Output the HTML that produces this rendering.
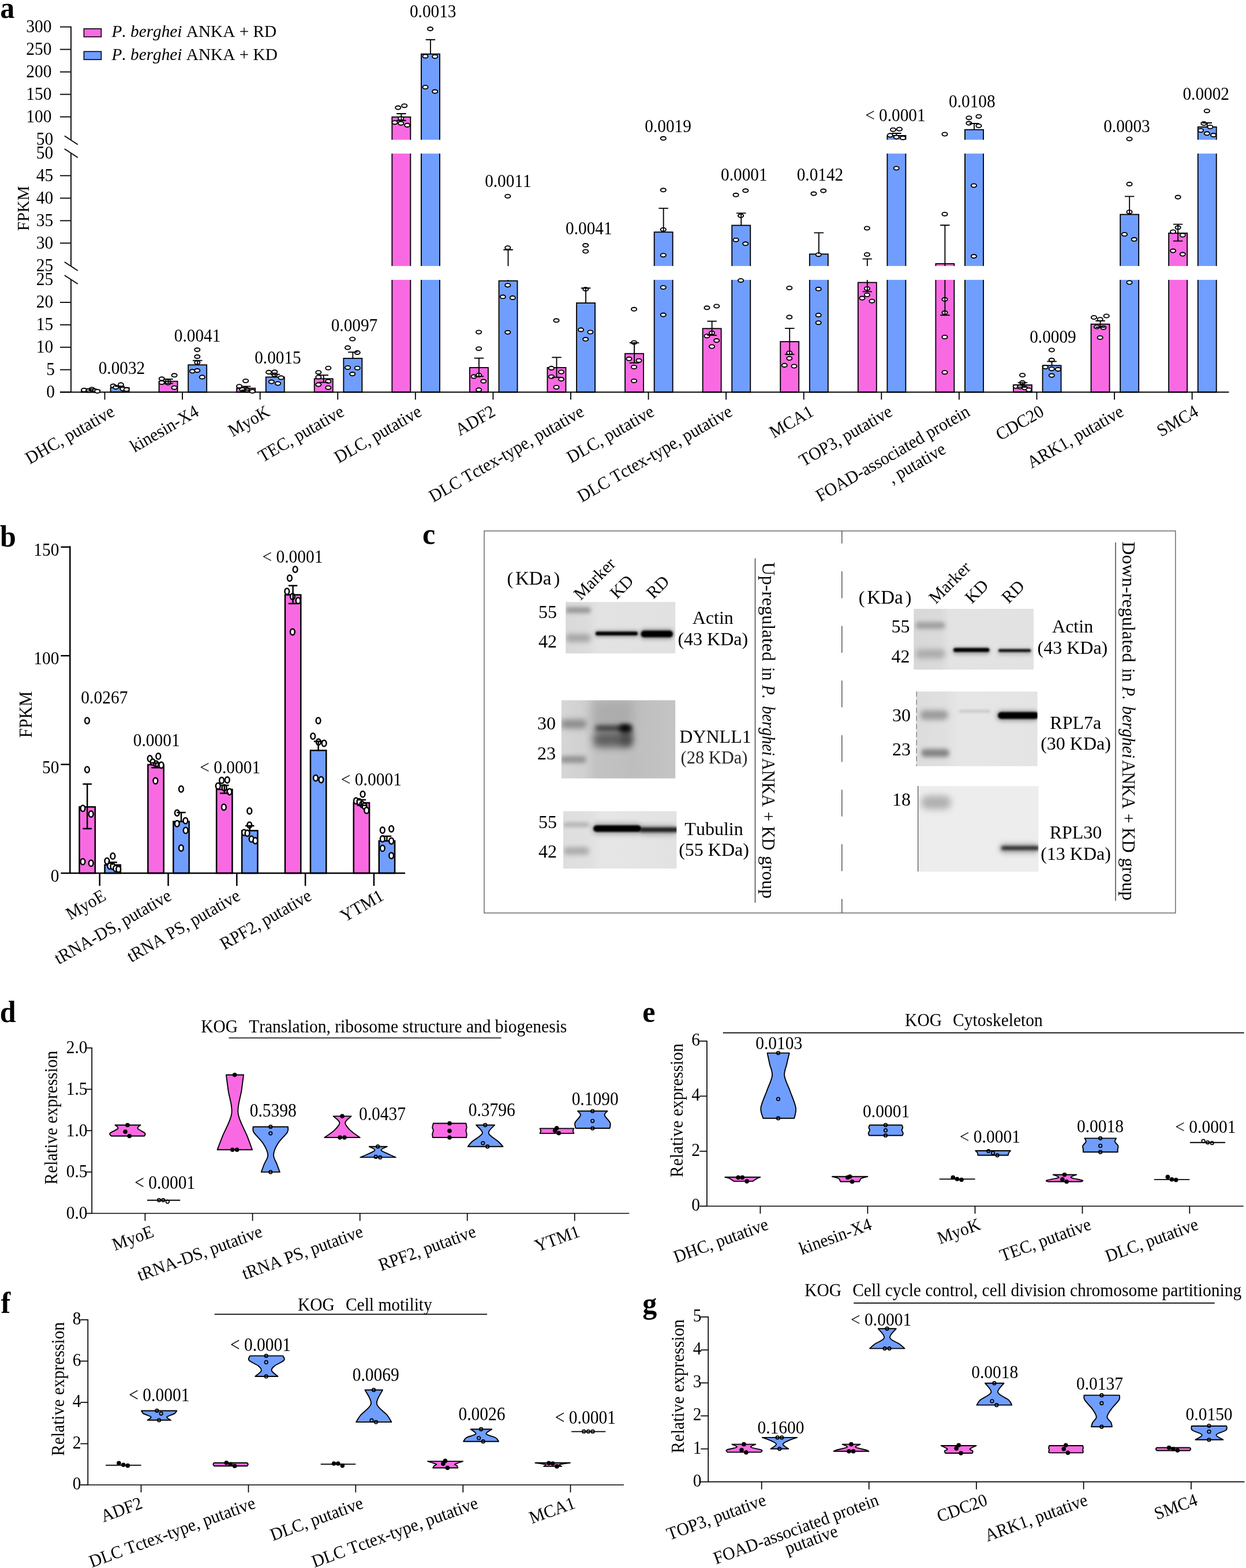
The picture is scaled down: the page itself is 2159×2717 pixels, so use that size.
<!DOCTYPE html>
<html lang="en"><head><meta charset="utf-8"><title>Figure</title>
<style>
html,body{margin:0;padding:0;background:#fff;}
svg{display:block;font-family:'Liberation Serif','Noto Serif CJK SC',serif;font-kerning:none;}
</style></head>
<body>
<svg xmlns="http://www.w3.org/2000/svg" width="2159" height="2717" viewBox="0 0 2159 2717">
<defs>
<filter id="b1" x="-30%" y="-300%" width="160%" height="700%"><feGaussianBlur stdDeviation="1.2"/></filter>
<filter id="b2" x="-30%" y="-300%" width="160%" height="700%"><feGaussianBlur stdDeviation="2.5"/></filter>
<filter id="b4" x="-30%" y="-300%" width="160%" height="700%"><feGaussianBlur stdDeviation="4.5"/></filter>
<filter id="b8" x="-30%" y="-100%" width="160%" height="300%"><feGaussianBlur stdDeviation="9"/></filter>
</defs>
<rect width="2159" height="2717" fill="#fff"/>
<text x="0.3" y="30.6" font-size="50" font-weight="bold" transform="translate(0.3 30.6) scale(1 1.04) translate(-0.3 -30.6)">a</text>
<text x="89.5" y="55.9" font-size="29.5" text-anchor="end" transform="translate(89.5 55.9) scale(1 1.08) translate(-89.5 -55.9)">300</text>
<text x="89.5" y="94.9" font-size="29.5" text-anchor="end" transform="translate(89.5 94.9) scale(1 1.08) translate(-89.5 -94.9)">250</text>
<text x="89.5" y="133.9" font-size="29.5" text-anchor="end" transform="translate(89.5 133.9) scale(1 1.08) translate(-89.5 -133.9)">200</text>
<text x="89.5" y="172.8" font-size="29.5" text-anchor="end" transform="translate(89.5 172.8) scale(1 1.08) translate(-89.5 -172.8)">150</text>
<text x="89.5" y="211.8" font-size="29.5" text-anchor="end" transform="translate(89.5 211.8) scale(1 1.08) translate(-89.5 -211.8)">100</text>
<text x="92.3" y="250.8" font-size="29.5" text-anchor="end" transform="translate(92.3 250.8) scale(1 1.08) translate(-92.3 -250.8)">50</text>
<text x="92.3" y="274.7" font-size="29.5" text-anchor="end" transform="translate(92.3 274.7) scale(1 1.08) translate(-92.3 -274.7)">50</text>
<text x="92.3" y="313.7" font-size="29.5" text-anchor="end" transform="translate(92.3 313.7) scale(1 1.08) translate(-92.3 -313.7)">45</text>
<text x="92.3" y="352.7" font-size="29.5" text-anchor="end" transform="translate(92.3 352.7) scale(1 1.08) translate(-92.3 -352.7)">40</text>
<text x="92.3" y="391.7" font-size="29.5" text-anchor="end" transform="translate(92.3 391.7) scale(1 1.08) translate(-92.3 -391.7)">35</text>
<text x="92.3" y="430.6" font-size="29.5" text-anchor="end" transform="translate(92.3 430.6) scale(1 1.08) translate(-92.3 -430.6)">30</text>
<text x="92.3" y="469.6" font-size="29.5" text-anchor="end" transform="translate(92.3 469.6) scale(1 1.08) translate(-92.3 -469.6)">25</text>
<text x="92.3" y="494.3" font-size="29.5" text-anchor="end" transform="translate(92.3 494.3) scale(1 1.08) translate(-92.3 -494.3)">25</text>
<text x="92.3" y="533.2" font-size="29.5" text-anchor="end" transform="translate(92.3 533.2) scale(1 1.08) translate(-92.3 -533.2)">20</text>
<text x="92.3" y="572.1" font-size="29.5" text-anchor="end" transform="translate(92.3 572.1) scale(1 1.08) translate(-92.3 -572.1)">15</text>
<text x="92.3" y="611" font-size="29.5" text-anchor="end" transform="translate(92.3 611) scale(1 1.08) translate(-92.3 -611)">10</text>
<text x="95" y="649.9" font-size="29.5" text-anchor="end" transform="translate(95 649.9) scale(1 1.08) translate(-95 -649.9)">5</text>
<text x="95" y="688.8" font-size="29.5" text-anchor="end" transform="translate(95 688.8) scale(1 1.08) translate(-95 -688.8)">0</text>
<line x1="104" y1="46.6" x2="123" y2="46.6" stroke="#000" stroke-width="1.85"/>
<line x1="104" y1="85.6" x2="123" y2="85.6" stroke="#000" stroke-width="1.85"/>
<line x1="104" y1="124.6" x2="123" y2="124.6" stroke="#000" stroke-width="1.85"/>
<line x1="104" y1="163.5" x2="123" y2="163.5" stroke="#000" stroke-width="1.85"/>
<line x1="104" y1="202.5" x2="123" y2="202.5" stroke="#000" stroke-width="1.85"/>
<line x1="104" y1="304.4" x2="123" y2="304.4" stroke="#000" stroke-width="1.85"/>
<line x1="104" y1="343.4" x2="123" y2="343.4" stroke="#000" stroke-width="1.85"/>
<line x1="104" y1="382.4" x2="123" y2="382.4" stroke="#000" stroke-width="1.85"/>
<line x1="104" y1="421.3" x2="123" y2="421.3" stroke="#000" stroke-width="1.85"/>
<line x1="104" y1="523.9" x2="123" y2="523.9" stroke="#000" stroke-width="1.85"/>
<line x1="104" y1="562.8" x2="123" y2="562.8" stroke="#000" stroke-width="1.85"/>
<line x1="104" y1="601.7" x2="123" y2="601.7" stroke="#000" stroke-width="1.85"/>
<line x1="104" y1="640.6" x2="123" y2="640.6" stroke="#000" stroke-width="1.85"/>
<line x1="104" y1="679.5" x2="123" y2="679.5" stroke="#000" stroke-width="1.85"/>
<line x1="123" y1="45.68" x2="123" y2="243" stroke="#000" stroke-width="1.85"/>
<line x1="123" y1="265.6" x2="123" y2="461.8" stroke="#000" stroke-width="1.85"/>
<line x1="123" y1="484.5" x2="123" y2="679.5" stroke="#000" stroke-width="1.85"/>
<line x1="111.8" y1="235.4" x2="134.8" y2="250.4" stroke="#000" stroke-width="1.85"/>
<line x1="111.8" y1="258.1" x2="134.8" y2="273.1" stroke="#000" stroke-width="1.85"/>
<line x1="111.8" y1="454.1" x2="134.8" y2="469.1" stroke="#000" stroke-width="1.85"/>
<line x1="111.8" y1="476.9" x2="134.8" y2="491.9" stroke="#000" stroke-width="1.85"/>
<text x="50.3" y="361" font-size="28.6" text-anchor="middle" transform="rotate(-90 50.3 361)">FPKM</text>
<rect x="145.4" y="49.8" width="30" height="14" fill="#f96ae2" stroke="#000" stroke-width="1.6"/>
<rect x="145.4" y="89.3" width="30" height="14" fill="#709eff" stroke="#000" stroke-width="1.6"/>
<text x="193.5" y="64.3" font-size="29.3" transform="translate(193.5 64.3) scale(1 1.04) translate(-193.5 -64.3)"><tspan font-style="italic">P. berghei</tspan> ANKA + RD</text>
<text x="193.5" y="103.8" font-size="29.3" transform="translate(193.5 103.8) scale(1 1.04) translate(-193.5 -103.8)"><tspan font-style="italic">P. berghei</tspan> ANKA + KD</text>
<rect x="141" y="675.8" width="32" height="3.7" fill="#f96ae2" stroke="#000" stroke-width="1.85"/>
<rect x="191.6" y="671.7" width="32" height="7.8" fill="#709eff" stroke="#000" stroke-width="1.85"/>
<rect x="275.58" y="660.7" width="32" height="18.8" fill="#f96ae2" stroke="#000" stroke-width="1.85"/>
<rect x="326.18" y="632.3" width="32" height="47.2" fill="#709eff" stroke="#000" stroke-width="1.85"/>
<rect x="410.16" y="672.7" width="32" height="6.8" fill="#f96ae2" stroke="#000" stroke-width="1.85"/>
<rect x="460.76" y="653.4" width="32" height="26.1" fill="#709eff" stroke="#000" stroke-width="1.85"/>
<rect x="544.74" y="656.3" width="32" height="23.2" fill="#f96ae2" stroke="#000" stroke-width="1.85"/>
<rect x="595.34" y="621" width="32" height="58.5" fill="#709eff" stroke="#000" stroke-width="1.85"/>
<rect x="679.32" y="202.7" width="32" height="476.8" fill="#f96ae2" stroke="#000" stroke-width="1.85"/>
<rect x="729.92" y="93.6" width="32" height="585.9" fill="#709eff" stroke="#000" stroke-width="1.85"/>
<rect x="813.9" y="637" width="32" height="42.5" fill="#f96ae2" stroke="#000" stroke-width="1.85"/>
<rect x="864.5" y="486.6" width="32" height="192.9" fill="#709eff" stroke="#000" stroke-width="1.85"/>
<rect x="948.48" y="637" width="32" height="42.5" fill="#f96ae2" stroke="#000" stroke-width="1.85"/>
<rect x="999.08" y="525" width="32" height="154.5" fill="#709eff" stroke="#000" stroke-width="1.85"/>
<rect x="1083.06" y="612.7" width="32" height="66.8" fill="#f96ae2" stroke="#000" stroke-width="1.85"/>
<rect x="1133.66" y="402.2" width="32" height="277.3" fill="#709eff" stroke="#000" stroke-width="1.85"/>
<rect x="1217.64" y="569.3" width="32" height="110.2" fill="#f96ae2" stroke="#000" stroke-width="1.85"/>
<rect x="1268.24" y="390.5" width="32" height="289" fill="#709eff" stroke="#000" stroke-width="1.85"/>
<rect x="1352.22" y="592" width="32" height="87.5" fill="#f96ae2" stroke="#000" stroke-width="1.85"/>
<rect x="1402.82" y="440.3" width="32" height="239.2" fill="#709eff" stroke="#000" stroke-width="1.85"/>
<rect x="1486.8" y="489.5" width="32" height="190" fill="#f96ae2" stroke="#000" stroke-width="1.85"/>
<rect x="1537.4" y="235" width="32" height="444.5" fill="#709eff" stroke="#000" stroke-width="1.85"/>
<rect x="1621.38" y="457" width="32" height="222.5" fill="#f96ae2" stroke="#000" stroke-width="1.85"/>
<rect x="1671.98" y="224.7" width="32" height="454.8" fill="#709eff" stroke="#000" stroke-width="1.85"/>
<rect x="1755.96" y="667" width="32" height="12.5" fill="#f96ae2" stroke="#000" stroke-width="1.85"/>
<rect x="1806.56" y="633.3" width="32" height="46.2" fill="#709eff" stroke="#000" stroke-width="1.85"/>
<rect x="1890.54" y="561.7" width="32" height="117.8" fill="#f96ae2" stroke="#000" stroke-width="1.85"/>
<rect x="1941.14" y="371.6" width="32" height="307.9" fill="#709eff" stroke="#000" stroke-width="1.85"/>
<rect x="2025.12" y="404" width="32" height="275.5" fill="#f96ae2" stroke="#000" stroke-width="1.85"/>
<rect x="2075.72" y="220" width="32" height="459.5" fill="#709eff" stroke="#000" stroke-width="1.85"/>
<rect x="135.5" y="242.2" width="2020" height="23.9" fill="#fff"/>
<rect x="135.5" y="460.9" width="2020" height="24.0" fill="#fff"/>
<line x1="104" y1="679.5" x2="2129.4" y2="679.5" stroke="#000" stroke-width="1.85"/>
<line x1="181.5" y1="679.5" x2="181.5" y2="692.5" stroke="#000" stroke-width="1.85"/>
<line x1="316.08" y1="679.5" x2="316.08" y2="692.5" stroke="#000" stroke-width="1.85"/>
<line x1="450.66" y1="679.5" x2="450.66" y2="692.5" stroke="#000" stroke-width="1.85"/>
<line x1="585.24" y1="679.5" x2="585.24" y2="692.5" stroke="#000" stroke-width="1.85"/>
<line x1="719.82" y1="679.5" x2="719.82" y2="692.5" stroke="#000" stroke-width="1.85"/>
<line x1="854.4" y1="679.5" x2="854.4" y2="692.5" stroke="#000" stroke-width="1.85"/>
<line x1="988.98" y1="679.5" x2="988.98" y2="692.5" stroke="#000" stroke-width="1.85"/>
<line x1="1123.56" y1="679.5" x2="1123.56" y2="692.5" stroke="#000" stroke-width="1.85"/>
<line x1="1258.14" y1="679.5" x2="1258.14" y2="692.5" stroke="#000" stroke-width="1.85"/>
<line x1="1392.72" y1="679.5" x2="1392.72" y2="692.5" stroke="#000" stroke-width="1.85"/>
<line x1="1527.3" y1="679.5" x2="1527.3" y2="692.5" stroke="#000" stroke-width="1.85"/>
<line x1="1661.88" y1="679.5" x2="1661.88" y2="692.5" stroke="#000" stroke-width="1.85"/>
<line x1="1796.46" y1="679.5" x2="1796.46" y2="692.5" stroke="#000" stroke-width="1.85"/>
<line x1="1931.04" y1="679.5" x2="1931.04" y2="692.5" stroke="#000" stroke-width="1.85"/>
<line x1="2065.62" y1="679.5" x2="2065.62" y2="692.5" stroke="#000" stroke-width="1.85"/>
<ellipse cx="145.7" cy="675.8" rx="4.6" ry="3.1" fill="#fff" stroke="#000" stroke-width="1.9"/>
<ellipse cx="153.6" cy="677" rx="4.6" ry="3.1" fill="#fff" stroke="#000" stroke-width="1.9"/>
<ellipse cx="159.3" cy="674.2" rx="4.6" ry="3.1" fill="#fff" stroke="#000" stroke-width="1.9"/>
<ellipse cx="164.6" cy="677" rx="4.6" ry="3.1" fill="#fff" stroke="#000" stroke-width="1.9"/>
<ellipse cx="168.7" cy="678" rx="4.6" ry="3.1" fill="#fff" stroke="#000" stroke-width="1.9"/>
<ellipse cx="196.2" cy="668.6" rx="4.6" ry="3.1" fill="#fff" stroke="#000" stroke-width="1.9"/>
<ellipse cx="209.4" cy="666.4" rx="4.6" ry="3.1" fill="#fff" stroke="#000" stroke-width="1.9"/>
<ellipse cx="200.9" cy="671.1" rx="4.6" ry="3.1" fill="#fff" stroke="#000" stroke-width="1.9"/>
<ellipse cx="212.9" cy="673.9" rx="4.6" ry="3.1" fill="#fff" stroke="#000" stroke-width="1.9"/>
<ellipse cx="219.2" cy="674.9" rx="4.6" ry="3.1" fill="#fff" stroke="#000" stroke-width="1.9"/>
<ellipse cx="280.3" cy="656.3" rx="4.6" ry="3.1" fill="#fff" stroke="#000" stroke-width="1.9"/>
<ellipse cx="302.1" cy="650.3" rx="4.6" ry="3.1" fill="#fff" stroke="#000" stroke-width="1.9"/>
<ellipse cx="280.3" cy="662.9" rx="4.6" ry="3.1" fill="#fff" stroke="#000" stroke-width="1.9"/>
<ellipse cx="291" cy="660.7" rx="4.6" ry="3.1" fill="#fff" stroke="#000" stroke-width="1.9"/>
<ellipse cx="291" cy="663.8" rx="4.6" ry="3.1" fill="#fff" stroke="#000" stroke-width="1.9"/>
<ellipse cx="302.1" cy="671.7" rx="4.6" ry="3.1" fill="#fff" stroke="#000" stroke-width="1.9"/>
<ellipse cx="341.8" cy="606.1" rx="4.6" ry="3.1" fill="#fff" stroke="#000" stroke-width="1.9"/>
<ellipse cx="341.8" cy="618.1" rx="4.6" ry="3.1" fill="#fff" stroke="#000" stroke-width="1.9"/>
<ellipse cx="341.8" cy="628.2" rx="4.6" ry="3.1" fill="#fff" stroke="#000" stroke-width="1.9"/>
<ellipse cx="333.3" cy="643.3" rx="4.6" ry="3.1" fill="#fff" stroke="#000" stroke-width="1.9"/>
<ellipse cx="341.8" cy="642.1" rx="4.6" ry="3.1" fill="#fff" stroke="#000" stroke-width="1.9"/>
<ellipse cx="350.3" cy="653.4" rx="4.6" ry="3.1" fill="#fff" stroke="#000" stroke-width="1.9"/>
<ellipse cx="425.7" cy="660" rx="4.6" ry="3.1" fill="#fff" stroke="#000" stroke-width="1.9"/>
<ellipse cx="414.6" cy="669.2" rx="4.6" ry="3.1" fill="#fff" stroke="#000" stroke-width="1.9"/>
<ellipse cx="425.7" cy="673.6" rx="4.6" ry="3.1" fill="#fff" stroke="#000" stroke-width="1.9"/>
<ellipse cx="420" cy="674.9" rx="4.6" ry="3.1" fill="#fff" stroke="#000" stroke-width="1.9"/>
<ellipse cx="427.9" cy="675.8" rx="4.6" ry="3.1" fill="#fff" stroke="#000" stroke-width="1.9"/>
<ellipse cx="437.3" cy="678" rx="4.6" ry="3.1" fill="#fff" stroke="#000" stroke-width="1.9"/>
<ellipse cx="465.7" cy="644.9" rx="4.6" ry="3.1" fill="#fff" stroke="#000" stroke-width="1.9"/>
<ellipse cx="475.8" cy="644.3" rx="4.6" ry="3.1" fill="#fff" stroke="#000" stroke-width="1.9"/>
<ellipse cx="475.8" cy="649.6" rx="4.6" ry="3.1" fill="#fff" stroke="#000" stroke-width="1.9"/>
<ellipse cx="487.1" cy="654.4" rx="4.6" ry="3.1" fill="#fff" stroke="#000" stroke-width="1.9"/>
<ellipse cx="470.4" cy="661.6" rx="4.6" ry="3.1" fill="#fff" stroke="#000" stroke-width="1.9"/>
<ellipse cx="481.5" cy="664.5" rx="4.6" ry="3.1" fill="#fff" stroke="#000" stroke-width="1.9"/>
<ellipse cx="568.8" cy="637.7" rx="4.6" ry="3.1" fill="#fff" stroke="#000" stroke-width="1.9"/>
<ellipse cx="551.8" cy="645.2" rx="4.6" ry="3.1" fill="#fff" stroke="#000" stroke-width="1.9"/>
<ellipse cx="551.8" cy="653.4" rx="4.6" ry="3.1" fill="#fff" stroke="#000" stroke-width="1.9"/>
<ellipse cx="568.8" cy="660.7" rx="4.6" ry="3.1" fill="#fff" stroke="#000" stroke-width="1.9"/>
<ellipse cx="551.8" cy="666.4" rx="4.6" ry="3.1" fill="#fff" stroke="#000" stroke-width="1.9"/>
<ellipse cx="568.8" cy="671.7" rx="4.6" ry="3.1" fill="#fff" stroke="#000" stroke-width="1.9"/>
<ellipse cx="610.7" cy="587.5" rx="4.6" ry="3.1" fill="#fff" stroke="#000" stroke-width="1.9"/>
<ellipse cx="602.5" cy="602.4" rx="4.6" ry="3.1" fill="#fff" stroke="#000" stroke-width="1.9"/>
<ellipse cx="619.2" cy="610.9" rx="4.6" ry="3.1" fill="#fff" stroke="#000" stroke-width="1.9"/>
<ellipse cx="602.5" cy="637" rx="4.6" ry="3.1" fill="#fff" stroke="#000" stroke-width="1.9"/>
<ellipse cx="619.2" cy="637.7" rx="4.6" ry="3.1" fill="#fff" stroke="#000" stroke-width="1.9"/>
<ellipse cx="610.7" cy="648.1" rx="4.6" ry="3.1" fill="#fff" stroke="#000" stroke-width="1.9"/>
<ellipse cx="689.7" cy="186.6" rx="4.6" ry="3.1" fill="#fff" stroke="#000" stroke-width="1.9"/>
<ellipse cx="700.7" cy="183.2" rx="4.6" ry="3.1" fill="#fff" stroke="#000" stroke-width="1.9"/>
<ellipse cx="694.7" cy="205.2" rx="4.6" ry="3.1" fill="#fff" stroke="#000" stroke-width="1.9"/>
<ellipse cx="684" cy="212.2" rx="4.6" ry="3.1" fill="#fff" stroke="#000" stroke-width="1.9"/>
<ellipse cx="694.7" cy="213.7" rx="4.6" ry="3.1" fill="#fff" stroke="#000" stroke-width="1.9"/>
<ellipse cx="705.7" cy="216.9" rx="4.6" ry="3.1" fill="#fff" stroke="#000" stroke-width="1.9"/>
<ellipse cx="745.5" cy="50.1" rx="4.6" ry="3.1" fill="#fff" stroke="#000" stroke-width="1.9"/>
<ellipse cx="737" cy="97.4" rx="4.6" ry="3.1" fill="#fff" stroke="#000" stroke-width="1.9"/>
<ellipse cx="753.7" cy="98" rx="4.6" ry="3.1" fill="#fff" stroke="#000" stroke-width="1.9"/>
<ellipse cx="737" cy="151" rx="4.6" ry="3.1" fill="#fff" stroke="#000" stroke-width="1.9"/>
<ellipse cx="753.7" cy="158.6" rx="4.6" ry="3.1" fill="#fff" stroke="#000" stroke-width="1.9"/>
<ellipse cx="829.6" cy="575.5" rx="4.6" ry="3.1" fill="#fff" stroke="#000" stroke-width="1.9"/>
<ellipse cx="829.6" cy="604.2" rx="4.6" ry="3.1" fill="#fff" stroke="#000" stroke-width="1.9"/>
<ellipse cx="829.6" cy="649.9" rx="4.6" ry="3.1" fill="#fff" stroke="#000" stroke-width="1.9"/>
<ellipse cx="821.1" cy="652.4" rx="4.6" ry="3.1" fill="#fff" stroke="#000" stroke-width="1.9"/>
<ellipse cx="837.8" cy="660.6" rx="4.6" ry="3.1" fill="#fff" stroke="#000" stroke-width="1.9"/>
<ellipse cx="829.6" cy="675.4" rx="4.6" ry="3.1" fill="#fff" stroke="#000" stroke-width="1.9"/>
<ellipse cx="879.8" cy="340" rx="4.6" ry="3.1" fill="#fff" stroke="#000" stroke-width="1.9"/>
<ellipse cx="879.8" cy="429.2" rx="4.6" ry="3.1" fill="#fff" stroke="#000" stroke-width="1.9"/>
<ellipse cx="879.8" cy="494.2" rx="4.6" ry="3.1" fill="#fff" stroke="#000" stroke-width="1.9"/>
<ellipse cx="871.3" cy="514.3" rx="4.6" ry="3.1" fill="#fff" stroke="#000" stroke-width="1.9"/>
<ellipse cx="888.3" cy="515.9" rx="4.6" ry="3.1" fill="#fff" stroke="#000" stroke-width="1.9"/>
<ellipse cx="879.8" cy="575.8" rx="4.6" ry="3.1" fill="#fff" stroke="#000" stroke-width="1.9"/>
<ellipse cx="964" cy="555.3" rx="4.6" ry="3.1" fill="#fff" stroke="#000" stroke-width="1.9"/>
<ellipse cx="955.4" cy="637.9" rx="4.6" ry="3.1" fill="#fff" stroke="#000" stroke-width="1.9"/>
<ellipse cx="972.5" cy="644.5" rx="4.6" ry="3.1" fill="#fff" stroke="#000" stroke-width="1.9"/>
<ellipse cx="955.4" cy="652.7" rx="4.6" ry="3.1" fill="#fff" stroke="#000" stroke-width="1.9"/>
<ellipse cx="972.5" cy="657.1" rx="4.6" ry="3.1" fill="#fff" stroke="#000" stroke-width="1.9"/>
<ellipse cx="964" cy="671" rx="4.6" ry="3.1" fill="#fff" stroke="#000" stroke-width="1.9"/>
<ellipse cx="1014.7" cy="425.1" rx="4.6" ry="3.1" fill="#fff" stroke="#000" stroke-width="1.9"/>
<ellipse cx="1014.7" cy="435.5" rx="4.6" ry="3.1" fill="#fff" stroke="#000" stroke-width="1.9"/>
<ellipse cx="1014.7" cy="501.1" rx="4.6" ry="3.1" fill="#fff" stroke="#000" stroke-width="1.9"/>
<ellipse cx="1006.5" cy="571.4" rx="4.6" ry="3.1" fill="#fff" stroke="#000" stroke-width="1.9"/>
<ellipse cx="1022.9" cy="575.5" rx="4.6" ry="3.1" fill="#fff" stroke="#000" stroke-width="1.9"/>
<ellipse cx="1014.7" cy="587.8" rx="4.6" ry="3.1" fill="#fff" stroke="#000" stroke-width="1.9"/>
<ellipse cx="1098.6" cy="535.8" rx="4.6" ry="3.1" fill="#fff" stroke="#000" stroke-width="1.9"/>
<ellipse cx="1098.6" cy="593.5" rx="4.6" ry="3.1" fill="#fff" stroke="#000" stroke-width="1.9"/>
<ellipse cx="1090" cy="621.8" rx="4.6" ry="3.1" fill="#fff" stroke="#000" stroke-width="1.9"/>
<ellipse cx="1107" cy="624.7" rx="4.6" ry="3.1" fill="#fff" stroke="#000" stroke-width="1.9"/>
<ellipse cx="1098.6" cy="636" rx="4.6" ry="3.1" fill="#fff" stroke="#000" stroke-width="1.9"/>
<ellipse cx="1098.6" cy="660" rx="4.6" ry="3.1" fill="#fff" stroke="#000" stroke-width="1.9"/>
<ellipse cx="1149.3" cy="239.8" rx="4.6" ry="3.1" fill="#fff" stroke="#000" stroke-width="1.9"/>
<ellipse cx="1149.3" cy="329.3" rx="4.6" ry="3.1" fill="#fff" stroke="#000" stroke-width="1.9"/>
<ellipse cx="1149.3" cy="397.7" rx="4.6" ry="3.1" fill="#fff" stroke="#000" stroke-width="1.9"/>
<ellipse cx="1149.3" cy="442.2" rx="4.6" ry="3.1" fill="#fff" stroke="#000" stroke-width="1.9"/>
<ellipse cx="1149.3" cy="498" rx="4.6" ry="3.1" fill="#fff" stroke="#000" stroke-width="1.9"/>
<ellipse cx="1149.3" cy="545.6" rx="4.6" ry="3.1" fill="#fff" stroke="#000" stroke-width="1.9"/>
<ellipse cx="1225" cy="533.3" rx="4.6" ry="3.1" fill="#fff" stroke="#000" stroke-width="1.9"/>
<ellipse cx="1241.7" cy="530.5" rx="4.6" ry="3.1" fill="#fff" stroke="#000" stroke-width="1.9"/>
<ellipse cx="1233.5" cy="576.8" rx="4.6" ry="3.1" fill="#fff" stroke="#000" stroke-width="1.9"/>
<ellipse cx="1225" cy="582.2" rx="4.6" ry="3.1" fill="#fff" stroke="#000" stroke-width="1.9"/>
<ellipse cx="1241.7" cy="590.1" rx="4.6" ry="3.1" fill="#fff" stroke="#000" stroke-width="1.9"/>
<ellipse cx="1233.5" cy="600.5" rx="4.6" ry="3.1" fill="#fff" stroke="#000" stroke-width="1.9"/>
<ellipse cx="1291.8" cy="330.3" rx="4.6" ry="3.1" fill="#fff" stroke="#000" stroke-width="1.9"/>
<ellipse cx="1275.1" cy="337.8" rx="4.6" ry="3.1" fill="#fff" stroke="#000" stroke-width="1.9"/>
<ellipse cx="1283.6" cy="373.8" rx="4.6" ry="3.1" fill="#fff" stroke="#000" stroke-width="1.9"/>
<ellipse cx="1275.1" cy="415.7" rx="4.6" ry="3.1" fill="#fff" stroke="#000" stroke-width="1.9"/>
<ellipse cx="1291.8" cy="422.3" rx="4.6" ry="3.1" fill="#fff" stroke="#000" stroke-width="1.9"/>
<ellipse cx="1283.6" cy="486" rx="4.6" ry="3.1" fill="#fff" stroke="#000" stroke-width="1.9"/>
<ellipse cx="1367.8" cy="499" rx="4.6" ry="3.1" fill="#fff" stroke="#000" stroke-width="1.9"/>
<ellipse cx="1367.8" cy="549.4" rx="4.6" ry="3.1" fill="#fff" stroke="#000" stroke-width="1.9"/>
<ellipse cx="1367.8" cy="611.5" rx="4.6" ry="3.1" fill="#fff" stroke="#000" stroke-width="1.9"/>
<ellipse cx="1367.8" cy="621" rx="4.6" ry="3.1" fill="#fff" stroke="#000" stroke-width="1.9"/>
<ellipse cx="1359.3" cy="632.9" rx="4.6" ry="3.1" fill="#fff" stroke="#000" stroke-width="1.9"/>
<ellipse cx="1376" cy="634.5" rx="4.6" ry="3.1" fill="#fff" stroke="#000" stroke-width="1.9"/>
<ellipse cx="1410" cy="335.6" rx="4.6" ry="3.1" fill="#fff" stroke="#000" stroke-width="1.9"/>
<ellipse cx="1426.7" cy="330.6" rx="4.6" ry="3.1" fill="#fff" stroke="#000" stroke-width="1.9"/>
<ellipse cx="1418.2" cy="441.2" rx="4.6" ry="3.1" fill="#fff" stroke="#000" stroke-width="1.9"/>
<ellipse cx="1418.2" cy="500.8" rx="4.6" ry="3.1" fill="#fff" stroke="#000" stroke-width="1.9"/>
<ellipse cx="1418.2" cy="545.9" rx="4.6" ry="3.1" fill="#fff" stroke="#000" stroke-width="1.9"/>
<ellipse cx="1418.2" cy="559.2" rx="4.6" ry="3.1" fill="#fff" stroke="#000" stroke-width="1.9"/>
<ellipse cx="1502.4" cy="395.5" rx="4.6" ry="3.1" fill="#fff" stroke="#000" stroke-width="1.9"/>
<ellipse cx="1502.4" cy="441" rx="4.6" ry="3.1" fill="#fff" stroke="#000" stroke-width="1.9"/>
<ellipse cx="1502.4" cy="500" rx="4.6" ry="3.1" fill="#fff" stroke="#000" stroke-width="1.9"/>
<ellipse cx="1502.4" cy="511" rx="4.6" ry="3.1" fill="#fff" stroke="#000" stroke-width="1.9"/>
<ellipse cx="1493.9" cy="516.6" rx="4.6" ry="3.1" fill="#fff" stroke="#000" stroke-width="1.9"/>
<ellipse cx="1510.9" cy="521.7" rx="4.6" ry="3.1" fill="#fff" stroke="#000" stroke-width="1.9"/>
<ellipse cx="1547.5" cy="224.7" rx="4.6" ry="3.1" fill="#fff" stroke="#000" stroke-width="1.9"/>
<ellipse cx="1558.5" cy="223.7" rx="4.6" ry="3.1" fill="#fff" stroke="#000" stroke-width="1.9"/>
<ellipse cx="1542.4" cy="234.4" rx="4.6" ry="3.1" fill="#fff" stroke="#000" stroke-width="1.9"/>
<ellipse cx="1553.2" cy="237.6" rx="4.6" ry="3.1" fill="#fff" stroke="#000" stroke-width="1.9"/>
<ellipse cx="1564.5" cy="238.9" rx="4.6" ry="3.1" fill="#fff" stroke="#000" stroke-width="1.9"/>
<ellipse cx="1553.2" cy="291.5" rx="4.6" ry="3.1" fill="#fff" stroke="#000" stroke-width="1.9"/>
<ellipse cx="1637" cy="232.5" rx="4.6" ry="3.1" fill="#fff" stroke="#000" stroke-width="1.9"/>
<ellipse cx="1637" cy="371" rx="4.6" ry="3.1" fill="#fff" stroke="#000" stroke-width="1.9"/>
<ellipse cx="1637" cy="518.8" rx="4.6" ry="3.1" fill="#fff" stroke="#000" stroke-width="1.9"/>
<ellipse cx="1637" cy="541.8" rx="4.6" ry="3.1" fill="#fff" stroke="#000" stroke-width="1.9"/>
<ellipse cx="1637" cy="584" rx="4.6" ry="3.1" fill="#fff" stroke="#000" stroke-width="1.9"/>
<ellipse cx="1637" cy="645.2" rx="4.6" ry="3.1" fill="#fff" stroke="#000" stroke-width="1.9"/>
<ellipse cx="1678.9" cy="204.2" rx="4.6" ry="3.1" fill="#fff" stroke="#000" stroke-width="1.9"/>
<ellipse cx="1695.9" cy="201.7" rx="4.6" ry="3.1" fill="#fff" stroke="#000" stroke-width="1.9"/>
<ellipse cx="1678.9" cy="213.6" rx="4.6" ry="3.1" fill="#fff" stroke="#000" stroke-width="1.9"/>
<ellipse cx="1695.9" cy="218" rx="4.6" ry="3.1" fill="#fff" stroke="#000" stroke-width="1.9"/>
<ellipse cx="1687.4" cy="321.5" rx="4.6" ry="3.1" fill="#fff" stroke="#000" stroke-width="1.9"/>
<ellipse cx="1687.4" cy="444.1" rx="4.6" ry="3.1" fill="#fff" stroke="#000" stroke-width="1.9"/>
<ellipse cx="1771.6" cy="650" rx="4.6" ry="3.1" fill="#fff" stroke="#000" stroke-width="1.9"/>
<ellipse cx="1771.6" cy="662.9" rx="4.6" ry="3.1" fill="#fff" stroke="#000" stroke-width="1.9"/>
<ellipse cx="1760.2" cy="669.8" rx="4.6" ry="3.1" fill="#fff" stroke="#000" stroke-width="1.9"/>
<ellipse cx="1767.2" cy="670.5" rx="4.6" ry="3.1" fill="#fff" stroke="#000" stroke-width="1.9"/>
<ellipse cx="1775.7" cy="672.3" rx="4.6" ry="3.1" fill="#fff" stroke="#000" stroke-width="1.9"/>
<ellipse cx="1782.6" cy="675.5" rx="4.6" ry="3.1" fill="#fff" stroke="#000" stroke-width="1.9"/>
<ellipse cx="1822.3" cy="606.5" rx="4.6" ry="3.1" fill="#fff" stroke="#000" stroke-width="1.9"/>
<ellipse cx="1822.3" cy="623.8" rx="4.6" ry="3.1" fill="#fff" stroke="#000" stroke-width="1.9"/>
<ellipse cx="1811.3" cy="636.1" rx="4.6" ry="3.1" fill="#fff" stroke="#000" stroke-width="1.9"/>
<ellipse cx="1822.3" cy="639.2" rx="4.6" ry="3.1" fill="#fff" stroke="#000" stroke-width="1.9"/>
<ellipse cx="1833.4" cy="639.9" rx="4.6" ry="3.1" fill="#fff" stroke="#000" stroke-width="1.9"/>
<ellipse cx="1822.3" cy="650.6" rx="4.6" ry="3.1" fill="#fff" stroke="#000" stroke-width="1.9"/>
<ellipse cx="1895.5" cy="550" rx="4.6" ry="3.1" fill="#fff" stroke="#000" stroke-width="1.9"/>
<ellipse cx="1917.2" cy="547.5" rx="4.6" ry="3.1" fill="#fff" stroke="#000" stroke-width="1.9"/>
<ellipse cx="1906.2" cy="553.2" rx="4.6" ry="3.1" fill="#fff" stroke="#000" stroke-width="1.9"/>
<ellipse cx="1900.5" cy="566.4" rx="4.6" ry="3.1" fill="#fff" stroke="#000" stroke-width="1.9"/>
<ellipse cx="1911.9" cy="567.7" rx="4.6" ry="3.1" fill="#fff" stroke="#000" stroke-width="1.9"/>
<ellipse cx="1906.2" cy="585" rx="4.6" ry="3.1" fill="#fff" stroke="#000" stroke-width="1.9"/>
<ellipse cx="1957" cy="240.7" rx="4.6" ry="3.1" fill="#fff" stroke="#000" stroke-width="1.9"/>
<ellipse cx="1957" cy="318.9" rx="4.6" ry="3.1" fill="#fff" stroke="#000" stroke-width="1.9"/>
<ellipse cx="1957" cy="367.2" rx="4.6" ry="3.1" fill="#fff" stroke="#000" stroke-width="1.9"/>
<ellipse cx="1948.4" cy="406" rx="4.6" ry="3.1" fill="#fff" stroke="#000" stroke-width="1.9"/>
<ellipse cx="1965.2" cy="414.8" rx="4.6" ry="3.1" fill="#fff" stroke="#000" stroke-width="1.9"/>
<ellipse cx="1957" cy="489.5" rx="4.6" ry="3.1" fill="#fff" stroke="#000" stroke-width="1.9"/>
<ellipse cx="2041.1" cy="341.6" rx="4.6" ry="3.1" fill="#fff" stroke="#000" stroke-width="1.9"/>
<ellipse cx="2041.1" cy="394.3" rx="4.6" ry="3.1" fill="#fff" stroke="#000" stroke-width="1.9"/>
<ellipse cx="2032.6" cy="401.5" rx="4.6" ry="3.1" fill="#fff" stroke="#000" stroke-width="1.9"/>
<ellipse cx="2049.3" cy="407.5" rx="4.6" ry="3.1" fill="#fff" stroke="#000" stroke-width="1.9"/>
<ellipse cx="2032.6" cy="434.6" rx="4.6" ry="3.1" fill="#fff" stroke="#000" stroke-width="1.9"/>
<ellipse cx="2049.3" cy="440.6" rx="4.6" ry="3.1" fill="#fff" stroke="#000" stroke-width="1.9"/>
<ellipse cx="2091.3" cy="192.2" rx="4.6" ry="3.1" fill="#fff" stroke="#000" stroke-width="1.9"/>
<ellipse cx="2085.9" cy="214" rx="4.6" ry="3.1" fill="#fff" stroke="#000" stroke-width="1.9"/>
<ellipse cx="2096.9" cy="220" rx="4.6" ry="3.1" fill="#fff" stroke="#000" stroke-width="1.9"/>
<ellipse cx="2080.5" cy="226" rx="4.6" ry="3.1" fill="#fff" stroke="#000" stroke-width="1.9"/>
<ellipse cx="2091.3" cy="231.3" rx="4.6" ry="3.1" fill="#fff" stroke="#000" stroke-width="1.9"/>
<ellipse cx="2102.6" cy="234.1" rx="4.6" ry="3.1" fill="#fff" stroke="#000" stroke-width="1.9"/>
<clipPath id="segs"><rect x="0" y="0" width="2159" height="242.2"/><rect x="0" y="266.1" width="2159" height="194.8"/><rect x="0" y="484.9" width="2159" height="220"/></clipPath>
<g clip-path="url(#segs)">
<line x1="157" y1="673.8" x2="157" y2="677.5" stroke="#000" stroke-width="1.85"/>
<line x1="148.75" y1="673.8" x2="165.25" y2="673.8" stroke="#000" stroke-width="1.85"/>
<line x1="148.75" y1="677.5" x2="165.25" y2="677.5" stroke="#000" stroke-width="1.85"/>
<line x1="207.6" y1="669.5" x2="207.6" y2="671.7" stroke="#000" stroke-width="1.85"/>
<line x1="199.35" y1="669.5" x2="215.85" y2="669.5" stroke="#000" stroke-width="1.85"/>
<line x1="291.58" y1="656.9" x2="291.58" y2="664.5" stroke="#000" stroke-width="1.85"/>
<line x1="283.33" y1="656.9" x2="299.83" y2="656.9" stroke="#000" stroke-width="1.85"/>
<line x1="283.33" y1="664.5" x2="299.83" y2="664.5" stroke="#000" stroke-width="1.85"/>
<line x1="342.18" y1="624.7" x2="342.18" y2="632.3" stroke="#000" stroke-width="1.85"/>
<line x1="333.93" y1="624.7" x2="350.43" y2="624.7" stroke="#000" stroke-width="1.85"/>
<line x1="426.16" y1="669.5" x2="426.16" y2="676" stroke="#000" stroke-width="1.85"/>
<line x1="417.91" y1="669.5" x2="434.41" y2="669.5" stroke="#000" stroke-width="1.85"/>
<line x1="417.91" y1="676" x2="434.41" y2="676" stroke="#000" stroke-width="1.85"/>
<line x1="476.76" y1="648.7" x2="476.76" y2="653.4" stroke="#000" stroke-width="1.85"/>
<line x1="468.51" y1="648.7" x2="485.01" y2="648.7" stroke="#000" stroke-width="1.85"/>
<line x1="560.74" y1="650" x2="560.74" y2="662.6" stroke="#000" stroke-width="1.85"/>
<line x1="552.49" y1="650" x2="568.99" y2="650" stroke="#000" stroke-width="1.85"/>
<line x1="552.49" y1="662.6" x2="568.99" y2="662.6" stroke="#000" stroke-width="1.85"/>
<line x1="611.34" y1="610.2" x2="611.34" y2="621" stroke="#000" stroke-width="1.85"/>
<line x1="603.09" y1="610.2" x2="619.59" y2="610.2" stroke="#000" stroke-width="1.85"/>
<line x1="695.32" y1="197" x2="695.32" y2="208.7" stroke="#000" stroke-width="1.85"/>
<line x1="687.07" y1="197" x2="703.57" y2="197" stroke="#000" stroke-width="1.85"/>
<line x1="687.07" y1="208.7" x2="703.57" y2="208.7" stroke="#000" stroke-width="1.85"/>
<line x1="745.92" y1="68.7" x2="745.92" y2="93.6" stroke="#000" stroke-width="1.85"/>
<line x1="737.67" y1="68.7" x2="754.17" y2="68.7" stroke="#000" stroke-width="1.85"/>
<line x1="829.9" y1="620.6" x2="829.9" y2="652.1" stroke="#000" stroke-width="1.85"/>
<line x1="821.65" y1="620.6" x2="838.15" y2="620.6" stroke="#000" stroke-width="1.85"/>
<line x1="821.65" y1="652.1" x2="838.15" y2="652.1" stroke="#000" stroke-width="1.85"/>
<line x1="880.5" y1="432.7" x2="880.5" y2="486.6" stroke="#000" stroke-width="1.85"/>
<line x1="872.25" y1="432.7" x2="888.75" y2="432.7" stroke="#000" stroke-width="1.85"/>
<line x1="964.48" y1="619.3" x2="964.48" y2="653.7" stroke="#000" stroke-width="1.85"/>
<line x1="956.23" y1="619.3" x2="972.73" y2="619.3" stroke="#000" stroke-width="1.85"/>
<line x1="956.23" y1="653.7" x2="972.73" y2="653.7" stroke="#000" stroke-width="1.85"/>
<line x1="1015.08" y1="499.2" x2="1015.08" y2="525" stroke="#000" stroke-width="1.85"/>
<line x1="1006.83" y1="499.2" x2="1023.33" y2="499.2" stroke="#000" stroke-width="1.85"/>
<line x1="1099.06" y1="594.1" x2="1099.06" y2="628.8" stroke="#000" stroke-width="1.85"/>
<line x1="1090.81" y1="594.1" x2="1107.31" y2="594.1" stroke="#000" stroke-width="1.85"/>
<line x1="1090.81" y1="628.8" x2="1107.31" y2="628.8" stroke="#000" stroke-width="1.85"/>
<line x1="1149.66" y1="360.9" x2="1149.66" y2="402.2" stroke="#000" stroke-width="1.85"/>
<line x1="1141.41" y1="360.9" x2="1157.91" y2="360.9" stroke="#000" stroke-width="1.85"/>
<line x1="1233.64" y1="556.6" x2="1233.64" y2="580.9" stroke="#000" stroke-width="1.85"/>
<line x1="1225.39" y1="556.6" x2="1241.89" y2="556.6" stroke="#000" stroke-width="1.85"/>
<line x1="1225.39" y1="580.9" x2="1241.89" y2="580.9" stroke="#000" stroke-width="1.85"/>
<line x1="1284.24" y1="369.4" x2="1284.24" y2="390.5" stroke="#000" stroke-width="1.85"/>
<line x1="1275.99" y1="369.4" x2="1292.49" y2="369.4" stroke="#000" stroke-width="1.85"/>
<line x1="1368.22" y1="568.9" x2="1368.22" y2="614" stroke="#000" stroke-width="1.85"/>
<line x1="1359.97" y1="568.9" x2="1376.47" y2="568.9" stroke="#000" stroke-width="1.85"/>
<line x1="1359.97" y1="614" x2="1376.47" y2="614" stroke="#000" stroke-width="1.85"/>
<line x1="1418.82" y1="403.4" x2="1418.82" y2="440.3" stroke="#000" stroke-width="1.85"/>
<line x1="1410.57" y1="403.4" x2="1427.07" y2="403.4" stroke="#000" stroke-width="1.85"/>
<line x1="1502.8" y1="448.6" x2="1502.8" y2="505.3" stroke="#000" stroke-width="1.85"/>
<line x1="1494.55" y1="448.6" x2="1511.05" y2="448.6" stroke="#000" stroke-width="1.85"/>
<line x1="1494.55" y1="505.3" x2="1511.05" y2="505.3" stroke="#000" stroke-width="1.85"/>
<line x1="1553.4" y1="231" x2="1553.4" y2="235" stroke="#000" stroke-width="1.85"/>
<line x1="1545.15" y1="231" x2="1561.65" y2="231" stroke="#000" stroke-width="1.85"/>
<line x1="1637.38" y1="390.2" x2="1637.38" y2="546.2" stroke="#000" stroke-width="1.85"/>
<line x1="1629.13" y1="390.2" x2="1645.63" y2="390.2" stroke="#000" stroke-width="1.85"/>
<line x1="1629.13" y1="546.2" x2="1645.63" y2="546.2" stroke="#000" stroke-width="1.85"/>
<line x1="1687.98" y1="214" x2="1687.98" y2="224.7" stroke="#000" stroke-width="1.85"/>
<line x1="1679.73" y1="214" x2="1696.23" y2="214" stroke="#000" stroke-width="1.85"/>
<line x1="1771.96" y1="663.2" x2="1771.96" y2="670.8" stroke="#000" stroke-width="1.85"/>
<line x1="1763.71" y1="663.2" x2="1780.21" y2="663.2" stroke="#000" stroke-width="1.85"/>
<line x1="1763.71" y1="670.8" x2="1780.21" y2="670.8" stroke="#000" stroke-width="1.85"/>
<line x1="1822.56" y1="626.3" x2="1822.56" y2="633.3" stroke="#000" stroke-width="1.85"/>
<line x1="1814.31" y1="626.3" x2="1830.81" y2="626.3" stroke="#000" stroke-width="1.85"/>
<line x1="1906.54" y1="556" x2="1906.54" y2="567" stroke="#000" stroke-width="1.85"/>
<line x1="1898.29" y1="556" x2="1914.79" y2="556" stroke="#000" stroke-width="1.85"/>
<line x1="1898.29" y1="567" x2="1914.79" y2="567" stroke="#000" stroke-width="1.85"/>
<line x1="1957.14" y1="340.4" x2="1957.14" y2="371.6" stroke="#000" stroke-width="1.85"/>
<line x1="1948.89" y1="340.4" x2="1965.39" y2="340.4" stroke="#000" stroke-width="1.85"/>
<line x1="2041.12" y1="388.6" x2="2041.12" y2="417.6" stroke="#000" stroke-width="1.85"/>
<line x1="2032.87" y1="388.6" x2="2049.37" y2="388.6" stroke="#000" stroke-width="1.85"/>
<line x1="2032.87" y1="417.6" x2="2049.37" y2="417.6" stroke="#000" stroke-width="1.85"/>
<line x1="2091.72" y1="213" x2="2091.72" y2="220" stroke="#000" stroke-width="1.85"/>
<line x1="2083.47" y1="213" x2="2099.97" y2="213" stroke="#000" stroke-width="1.85"/>
</g>
<text x="211" y="648.5" font-size="29.3" text-anchor="middle" transform="translate(211 648.5) scale(1 1.07) translate(-211 -648.5)">0.0032</text>
<text x="342.1" y="592.5" font-size="29.3" text-anchor="middle" transform="translate(342.1 592.5) scale(1 1.07) translate(-342.1 -592.5)">0.0041</text>
<text x="481.5" y="630.3" font-size="29.3" text-anchor="middle" transform="translate(481.5 630.3) scale(1 1.07) translate(-481.5 -630.3)">0.0015</text>
<text x="614" y="573.9" font-size="29.3" text-anchor="middle" transform="translate(614 573.9) scale(1 1.07) translate(-614 -573.9)">0.0097</text>
<text x="750.2" y="30.5" font-size="29.3" text-anchor="middle" transform="translate(750.2 30.5) scale(1 1.07) translate(-750.2 -30.5)">0.0013</text>
<text x="880.4" y="323.6" font-size="29.3" text-anchor="middle" transform="translate(880.4 323.6) scale(1 1.07) translate(-880.4 -323.6)">0.0011</text>
<text x="1020.4" y="405.8" font-size="29.3" text-anchor="middle" transform="translate(1020.4 405.8) scale(1 1.07) translate(-1020.4 -405.8)">0.0041</text>
<text x="1157.6" y="228.6" font-size="29.3" text-anchor="middle" transform="translate(1157.6 228.6) scale(1 1.07) translate(-1157.6 -228.6)">0.0019</text>
<text x="1289.3" y="312.8" font-size="29.3" text-anchor="middle" transform="translate(1289.3 312.8) scale(1 1.07) translate(-1289.3 -312.8)">0.0001</text>
<text x="1421" y="312.8" font-size="29.3" text-anchor="middle" transform="translate(1421 312.8) scale(1 1.07) translate(-1421 -312.8)">0.0142</text>
<text x="1551.4" y="209.7" font-size="29.3" text-anchor="middle" transform="translate(1551.4 209.7) scale(1 1.07) translate(-1551.4 -209.7)">&lt; 0.0001</text>
<text x="1684.3" y="185.8" font-size="29.3" text-anchor="middle" transform="translate(1684.3 185.8) scale(1 1.07) translate(-1684.3 -185.8)">0.0108</text>
<text x="1824.5" y="594.3" font-size="29.3" text-anchor="middle" transform="translate(1824.5 594.3) scale(1 1.07) translate(-1824.5 -594.3)">0.0009</text>
<text x="1952.5" y="228.6" font-size="29.3" text-anchor="middle" transform="translate(1952.5 228.6) scale(1 1.07) translate(-1952.5 -228.6)">0.0003</text>
<text x="2089.7" y="173.5" font-size="29.3" text-anchor="middle" transform="translate(2089.7 173.5) scale(1 1.07) translate(-2089.7 -173.5)">0.0002</text>
<text x="200.5" y="719" font-size="29.5" text-anchor="end" transform="rotate(-30 200.5 719) translate(200.5 719) scale(1 1.05) translate(-200.5 -719)">DHC, putative</text>
<text x="346.48" y="719" font-size="29.5" text-anchor="end" transform="rotate(-30 346.48 719) translate(346.48 719) scale(1 1.05) translate(-346.48 -719)">kinesin-X4</text>
<text x="469.66" y="719" font-size="29.5" text-anchor="end" transform="rotate(-30 469.66 719) translate(469.66 719) scale(1 1.05) translate(-469.66 -719)">MyoK</text>
<text x="598.24" y="719" font-size="29.5" text-anchor="end" transform="rotate(-30 598.24 719) translate(598.24 719) scale(1 1.05) translate(-598.24 -719)">TEC, putative</text>
<text x="732.82" y="719" font-size="29.5" text-anchor="end" transform="rotate(-30 732.82 719) translate(732.82 719) scale(1 1.05) translate(-732.82 -719)">DLC, putative</text>
<text x="860.4" y="719" font-size="29.5" text-anchor="end" transform="rotate(-30 860.4 719) translate(860.4 719) scale(1 1.05) translate(-860.4 -719)">ADF2</text>
<text x="1013.98" y="719" font-size="29.5" text-anchor="end" transform="rotate(-30 1013.98 719) translate(1013.98 719) scale(1 1.05) translate(-1013.98 -719)">DLC Tctex-type, putative</text>
<text x="1135.56" y="719" font-size="29.5" text-anchor="end" transform="rotate(-30 1135.56 719) translate(1135.56 719) scale(1 1.05) translate(-1135.56 -719)">DLC, putative</text>
<text x="1271.14" y="719" font-size="29.5" text-anchor="end" transform="rotate(-30 1271.14 719) translate(1271.14 719) scale(1 1.05) translate(-1271.14 -719)">DLC Tctex-type, putative</text>
<text x="1411.72" y="719" font-size="29.5" text-anchor="end" transform="rotate(-30 1411.72 719) translate(1411.72 719) scale(1 1.05) translate(-1411.72 -719)">MCA1</text>
<text x="1548.3" y="719" font-size="29.5" text-anchor="end" transform="rotate(-30 1548.3 719) translate(1548.3 719) scale(1 1.05) translate(-1548.3 -719)">TOP3, putative</text>
<text x="1682.88" y="719" font-size="29.5" text-anchor="end" transform="rotate(-30 1682.88 719) translate(1682.88 719) scale(1 1.05) translate(-1682.88 -719)">FOAD-associated protein</text>
<text x="1640.88" y="784" font-size="29.5" text-anchor="end" transform="rotate(-30 1640.88 784) translate(1640.88 784) scale(1 1.05) translate(-1640.88 -784)">, putative</text>
<text x="1810.96" y="719" font-size="29.5" text-anchor="end" transform="rotate(-30 1810.96 719) translate(1810.96 719) scale(1 1.05) translate(-1810.96 -719)">CDC20</text>
<text x="1949.04" y="719" font-size="29.5" text-anchor="end" transform="rotate(-30 1949.04 719) translate(1949.04 719) scale(1 1.05) translate(-1949.04 -719)">ARK1, putative</text>
<text x="2078.62" y="719" font-size="29.5" text-anchor="end" transform="rotate(-30 2078.62 719) translate(2078.62 719) scale(1 1.05) translate(-2078.62 -719)">SMC4</text>
<text x="0" y="946.6" font-size="50" font-weight="bold" transform="translate(0 946.6) scale(1 1.04) translate(0 -946.6)">b</text>
<text x="102.5" y="963.1" font-size="29.5" text-anchor="end" transform="translate(102.5 963.1) scale(1 1.07) translate(-102.5 -963.1)">150</text>
<line x1="105.4" y1="947.9" x2="121.3" y2="947.9" stroke="#000" stroke-width="2.5"/>
<text x="102.5" y="1151.4" font-size="29.5" text-anchor="end" transform="translate(102.5 1151.4) scale(1 1.07) translate(-102.5 -1151.4)">100</text>
<line x1="105.4" y1="1136.2" x2="121.3" y2="1136.2" stroke="#000" stroke-width="2.5"/>
<text x="102.5" y="1339.8" font-size="29.5" text-anchor="end" transform="translate(102.5 1339.8) scale(1 1.07) translate(-102.5 -1339.8)">50</text>
<line x1="105.4" y1="1324.6" x2="121.3" y2="1324.6" stroke="#000" stroke-width="2.5"/>
<text x="102.5" y="1528.1" font-size="29.5" text-anchor="end" transform="translate(102.5 1528.1) scale(1 1.07) translate(-102.5 -1528.1)">0</text>
<line x1="121.3" y1="946.25" x2="121.3" y2="1513" stroke="#000" stroke-width="2.5"/>
<text x="55.5" y="1238" font-size="29.5" text-anchor="middle" transform="rotate(-90 55.5 1238) translate(55.5 1238) scale(1 1.07) translate(-55.5 -1238)">FPKM</text>
<rect x="137.55" y="1398.2" width="27.3" height="114.8" fill="#f96ae2" stroke="#000" stroke-width="2.5"/>
<rect x="181.55" y="1498.7" width="27.3" height="14.3" fill="#709eff" stroke="#000" stroke-width="2.5"/>
<rect x="256.35" y="1325" width="27.3" height="188" fill="#f96ae2" stroke="#000" stroke-width="2.5"/>
<rect x="300.35" y="1423.6" width="27.3" height="89.4" fill="#709eff" stroke="#000" stroke-width="2.5"/>
<rect x="375.15" y="1367.9" width="27.3" height="145.1" fill="#f96ae2" stroke="#000" stroke-width="2.5"/>
<rect x="419.15" y="1439.3" width="27.3" height="73.7" fill="#709eff" stroke="#000" stroke-width="2.5"/>
<rect x="493.95" y="1030.7" width="27.3" height="482.3" fill="#f96ae2" stroke="#000" stroke-width="2.5"/>
<rect x="537.95" y="1300.3" width="27.3" height="212.7" fill="#709eff" stroke="#000" stroke-width="2.5"/>
<rect x="612.75" y="1391.1" width="27.3" height="121.9" fill="#f96ae2" stroke="#000" stroke-width="2.5"/>
<rect x="656.75" y="1457.2" width="27.3" height="55.8" fill="#709eff" stroke="#000" stroke-width="2.5"/>
<line x1="105.4" y1="1513" x2="702" y2="1513" stroke="#000" stroke-width="2.5"/>
<line x1="172.7" y1="1513" x2="172.7" y2="1535" stroke="#000" stroke-width="2.5"/>
<line x1="291.5" y1="1513" x2="291.5" y2="1535" stroke="#000" stroke-width="2.5"/>
<line x1="410.3" y1="1513" x2="410.3" y2="1535" stroke="#000" stroke-width="2.5"/>
<line x1="529.1" y1="1513" x2="529.1" y2="1535" stroke="#000" stroke-width="2.5"/>
<line x1="647.9" y1="1513" x2="647.9" y2="1535" stroke="#000" stroke-width="2.5"/>
<ellipse cx="151" cy="1248.7" rx="3.9" ry="5.2" fill="#fff" stroke="#000" stroke-width="2.5"/>
<ellipse cx="151" cy="1333.6" rx="3.9" ry="5.2" fill="#fff" stroke="#000" stroke-width="2.5"/>
<ellipse cx="143.5" cy="1400.8" rx="3.9" ry="5.2" fill="#fff" stroke="#000" stroke-width="2.5"/>
<ellipse cx="157.7" cy="1410.5" rx="3.9" ry="5.2" fill="#fff" stroke="#000" stroke-width="2.5"/>
<ellipse cx="143.5" cy="1493.1" rx="3.9" ry="5.2" fill="#fff" stroke="#000" stroke-width="2.5"/>
<ellipse cx="157.7" cy="1495.7" rx="3.9" ry="5.2" fill="#fff" stroke="#000" stroke-width="2.5"/>
<ellipse cx="195.4" cy="1483.4" rx="3.9" ry="5.2" fill="#fff" stroke="#000" stroke-width="2.5"/>
<ellipse cx="185.4" cy="1492" rx="3.9" ry="5.2" fill="#fff" stroke="#000" stroke-width="2.5"/>
<ellipse cx="190.2" cy="1500.6" rx="3.9" ry="5.2" fill="#fff" stroke="#000" stroke-width="2.5"/>
<ellipse cx="195.4" cy="1501.3" rx="3.9" ry="5.2" fill="#fff" stroke="#000" stroke-width="2.5"/>
<ellipse cx="200.3" cy="1505" rx="3.9" ry="5.2" fill="#fff" stroke="#000" stroke-width="2.5"/>
<ellipse cx="205.2" cy="1506.2" rx="3.9" ry="5.2" fill="#fff" stroke="#000" stroke-width="2.5"/>
<ellipse cx="274.3" cy="1310.4" rx="3.9" ry="5.2" fill="#fff" stroke="#000" stroke-width="2.5"/>
<ellipse cx="259.7" cy="1314.5" rx="3.9" ry="5.2" fill="#fff" stroke="#000" stroke-width="2.5"/>
<ellipse cx="264.6" cy="1320.5" rx="3.9" ry="5.2" fill="#fff" stroke="#000" stroke-width="2.5"/>
<ellipse cx="270.5" cy="1323.8" rx="3.9" ry="5.2" fill="#fff" stroke="#000" stroke-width="2.5"/>
<ellipse cx="279.5" cy="1325.7" rx="3.9" ry="5.2" fill="#fff" stroke="#000" stroke-width="2.5"/>
<ellipse cx="269.4" cy="1353" rx="3.9" ry="5.2" fill="#fff" stroke="#000" stroke-width="2.5"/>
<ellipse cx="313.9" cy="1367.2" rx="3.9" ry="5.2" fill="#fff" stroke="#000" stroke-width="2.5"/>
<ellipse cx="306.8" cy="1408.6" rx="3.9" ry="5.2" fill="#fff" stroke="#000" stroke-width="2.5"/>
<ellipse cx="321.4" cy="1422.1" rx="3.9" ry="5.2" fill="#fff" stroke="#000" stroke-width="2.5"/>
<ellipse cx="306.8" cy="1427.3" rx="3.9" ry="5.2" fill="#fff" stroke="#000" stroke-width="2.5"/>
<ellipse cx="321.7" cy="1438.9" rx="3.9" ry="5.2" fill="#fff" stroke="#000" stroke-width="2.5"/>
<ellipse cx="313.9" cy="1469.5" rx="3.9" ry="5.2" fill="#fff" stroke="#000" stroke-width="2.5"/>
<ellipse cx="384.1" cy="1352.2" rx="3.9" ry="5.2" fill="#fff" stroke="#000" stroke-width="2.5"/>
<ellipse cx="393.8" cy="1351.5" rx="3.9" ry="5.2" fill="#fff" stroke="#000" stroke-width="2.5"/>
<ellipse cx="377.8" cy="1362" rx="3.9" ry="5.2" fill="#fff" stroke="#000" stroke-width="2.5"/>
<ellipse cx="388.6" cy="1365" rx="3.9" ry="5.2" fill="#fff" stroke="#000" stroke-width="2.5"/>
<ellipse cx="397.6" cy="1372" rx="3.9" ry="5.2" fill="#fff" stroke="#000" stroke-width="2.5"/>
<ellipse cx="387.9" cy="1398.6" rx="3.9" ry="5.2" fill="#fff" stroke="#000" stroke-width="2.5"/>
<ellipse cx="432.3" cy="1405.3" rx="3.9" ry="5.2" fill="#fff" stroke="#000" stroke-width="2.5"/>
<ellipse cx="432.3" cy="1429.6" rx="3.9" ry="5.2" fill="#fff" stroke="#000" stroke-width="2.5"/>
<ellipse cx="423" cy="1442.6" rx="3.9" ry="5.2" fill="#fff" stroke="#000" stroke-width="2.5"/>
<ellipse cx="428.6" cy="1443.8" rx="3.9" ry="5.2" fill="#fff" stroke="#000" stroke-width="2.5"/>
<ellipse cx="435.7" cy="1453.9" rx="3.9" ry="5.2" fill="#fff" stroke="#000" stroke-width="2.5"/>
<ellipse cx="442.4" cy="1456.8" rx="3.9" ry="5.2" fill="#fff" stroke="#000" stroke-width="2.5"/>
<ellipse cx="511.6" cy="986.6" rx="3.9" ry="5.2" fill="#fff" stroke="#000" stroke-width="2.5"/>
<ellipse cx="501.9" cy="1001.7" rx="3.9" ry="5.2" fill="#fff" stroke="#000" stroke-width="2.5"/>
<ellipse cx="497.3" cy="1024.8" rx="3.9" ry="5.2" fill="#fff" stroke="#000" stroke-width="2.5"/>
<ellipse cx="506.9" cy="1033.7" rx="3.9" ry="5.2" fill="#fff" stroke="#000" stroke-width="2.5"/>
<ellipse cx="516.6" cy="1040.8" rx="3.9" ry="5.2" fill="#fff" stroke="#000" stroke-width="2.5"/>
<ellipse cx="506.9" cy="1095" rx="3.9" ry="5.2" fill="#fff" stroke="#000" stroke-width="2.5"/>
<ellipse cx="551.5" cy="1248.7" rx="3.9" ry="5.2" fill="#fff" stroke="#000" stroke-width="2.5"/>
<ellipse cx="542.2" cy="1275.6" rx="3.9" ry="5.2" fill="#fff" stroke="#000" stroke-width="2.5"/>
<ellipse cx="551.9" cy="1285.7" rx="3.9" ry="5.2" fill="#fff" stroke="#000" stroke-width="2.5"/>
<ellipse cx="561.6" cy="1288" rx="3.9" ry="5.2" fill="#fff" stroke="#000" stroke-width="2.5"/>
<ellipse cx="547" cy="1348.1" rx="3.9" ry="5.2" fill="#fff" stroke="#000" stroke-width="2.5"/>
<ellipse cx="556.4" cy="1351.1" rx="3.9" ry="5.2" fill="#fff" stroke="#000" stroke-width="2.5"/>
<ellipse cx="628.5" cy="1376.1" rx="3.9" ry="5.2" fill="#fff" stroke="#000" stroke-width="2.5"/>
<ellipse cx="616.9" cy="1387.7" rx="3.9" ry="5.2" fill="#fff" stroke="#000" stroke-width="2.5"/>
<ellipse cx="622.5" cy="1389.2" rx="3.9" ry="5.2" fill="#fff" stroke="#000" stroke-width="2.5"/>
<ellipse cx="627.3" cy="1393.7" rx="3.9" ry="5.2" fill="#fff" stroke="#000" stroke-width="2.5"/>
<ellipse cx="631.5" cy="1396.7" rx="3.9" ry="5.2" fill="#fff" stroke="#000" stroke-width="2.5"/>
<ellipse cx="635.2" cy="1404.2" rx="3.9" ry="5.2" fill="#fff" stroke="#000" stroke-width="2.5"/>
<ellipse cx="662.8" cy="1438.5" rx="3.9" ry="5.2" fill="#fff" stroke="#000" stroke-width="2.5"/>
<ellipse cx="678.1" cy="1436.3" rx="3.9" ry="5.2" fill="#fff" stroke="#000" stroke-width="2.5"/>
<ellipse cx="662.8" cy="1453.5" rx="3.9" ry="5.2" fill="#fff" stroke="#000" stroke-width="2.5"/>
<ellipse cx="678.1" cy="1457.2" rx="3.9" ry="5.2" fill="#fff" stroke="#000" stroke-width="2.5"/>
<ellipse cx="662.8" cy="1469.9" rx="3.9" ry="5.2" fill="#fff" stroke="#000" stroke-width="2.5"/>
<ellipse cx="678.1" cy="1482.6" rx="3.9" ry="5.2" fill="#fff" stroke="#000" stroke-width="2.5"/>
<line x1="151.2" y1="1358.6" x2="151.2" y2="1435.9" stroke="#000" stroke-width="2.5"/>
<line x1="143.45" y1="1358.6" x2="158.95" y2="1358.6" stroke="#000" stroke-width="2.5"/>
<line x1="143.45" y1="1435.9" x2="158.95" y2="1435.9" stroke="#000" stroke-width="2.5"/>
<line x1="195.2" y1="1494.2" x2="195.2" y2="1498.7" stroke="#000" stroke-width="2.5"/>
<line x1="187.45" y1="1494.2" x2="202.95" y2="1494.2" stroke="#000" stroke-width="2.5"/>
<line x1="270" y1="1322" x2="270" y2="1330.2" stroke="#000" stroke-width="2.5"/>
<line x1="262.25" y1="1322" x2="277.75" y2="1322" stroke="#000" stroke-width="2.5"/>
<line x1="262.25" y1="1330.2" x2="277.75" y2="1330.2" stroke="#000" stroke-width="2.5"/>
<line x1="314" y1="1407.9" x2="314" y2="1423.6" stroke="#000" stroke-width="2.5"/>
<line x1="306.25" y1="1407.9" x2="321.75" y2="1407.9" stroke="#000" stroke-width="2.5"/>
<line x1="388.8" y1="1360.8" x2="388.8" y2="1374.6" stroke="#000" stroke-width="2.5"/>
<line x1="381.05" y1="1360.8" x2="396.55" y2="1360.8" stroke="#000" stroke-width="2.5"/>
<line x1="381.05" y1="1374.6" x2="396.55" y2="1374.6" stroke="#000" stroke-width="2.5"/>
<line x1="432.8" y1="1431" x2="432.8" y2="1439.3" stroke="#000" stroke-width="2.5"/>
<line x1="425.05" y1="1431" x2="440.55" y2="1431" stroke="#000" stroke-width="2.5"/>
<line x1="507.6" y1="1014.8" x2="507.6" y2="1045.9" stroke="#000" stroke-width="2.5"/>
<line x1="499.85" y1="1014.8" x2="515.35" y2="1014.8" stroke="#000" stroke-width="2.5"/>
<line x1="499.85" y1="1045.9" x2="515.35" y2="1045.9" stroke="#000" stroke-width="2.5"/>
<line x1="551.6" y1="1284.6" x2="551.6" y2="1300.3" stroke="#000" stroke-width="2.5"/>
<line x1="543.85" y1="1284.6" x2="559.35" y2="1284.6" stroke="#000" stroke-width="2.5"/>
<line x1="626.4" y1="1385.9" x2="626.4" y2="1395.6" stroke="#000" stroke-width="2.5"/>
<line x1="618.65" y1="1385.9" x2="634.15" y2="1385.9" stroke="#000" stroke-width="2.5"/>
<line x1="618.65" y1="1395.6" x2="634.15" y2="1395.6" stroke="#000" stroke-width="2.5"/>
<line x1="670.4" y1="1449" x2="670.4" y2="1457.2" stroke="#000" stroke-width="2.5"/>
<line x1="662.65" y1="1449" x2="678.15" y2="1449" stroke="#000" stroke-width="2.5"/>
<text x="180.9" y="1219.3" font-size="29.5" text-anchor="middle" transform="translate(180.9 1219.3) scale(1 1.07) translate(-180.9 -1219.3)">0.0267</text>
<text x="271.3" y="1293.3" font-size="29.5" text-anchor="middle" transform="translate(271.3 1293.3) scale(1 1.07) translate(-271.3 -1293.3)">0.0001</text>
<text x="398.7" y="1340" font-size="29.5" text-anchor="middle" transform="translate(398.7 1340) scale(1 1.07) translate(-398.7 -1340)">&lt; 0.0001</text>
<text x="507" y="975.2" font-size="29.5" text-anchor="middle" transform="translate(507 975.2) scale(1 1.07) translate(-507 -975.2)">&lt; 0.0001</text>
<text x="643.4" y="1361.3" font-size="29.5" text-anchor="middle" transform="translate(643.4 1361.3) scale(1 1.07) translate(-643.4 -1361.3)">&lt; 0.0001</text>
<text x="185.7" y="1558" font-size="29.5" text-anchor="end" transform="rotate(-30 185.7 1558) translate(185.7 1558) scale(1 1.05) translate(-185.7 -1558)">MyoE</text>
<text x="299" y="1558" font-size="29.5" text-anchor="end" transform="rotate(-30 299 1558) translate(299 1558) scale(1 1.05) translate(-299 -1558)">tRNA-DS, putative</text>
<text x="418.3" y="1558" font-size="29.5" text-anchor="end" transform="rotate(-30 418.3 1558) translate(418.3 1558) scale(1 1.05) translate(-418.3 -1558)">tRNA PS, putative</text>
<text x="542.1" y="1558" font-size="29.5" text-anchor="end" transform="rotate(-30 542.1 1558) translate(542.1 1558) scale(1 1.05) translate(-542.1 -1558)">RPF2, putative</text>
<text x="666.9" y="1558" font-size="29.5" text-anchor="end" transform="rotate(-30 666.9 1558) translate(666.9 1558) scale(1 1.05) translate(-666.9 -1558)">YTM1</text>
<text x="732" y="943" font-size="50" font-weight="bold" transform="translate(732 943) scale(1 1.04) translate(-732 -943)">c</text>
<rect x="839" y="920" width="1197.8" height="662" fill="none" stroke="#6a6a6a" stroke-width="1.5"/>
<line x1="1458.8" y1="920" x2="1458.8" y2="1582" stroke="#555" stroke-width="1.5" stroke-dasharray="46.3 48.3" stroke-dashoffset="24.5"/>
<line x1="1308.5" y1="967.4" x2="1308.5" y2="1564.3" stroke="#444" stroke-width="1.5"/>
<line x1="1933" y1="940.1" x2="1933" y2="1561" stroke="#444" stroke-width="1.5"/>
<text x="1321.1" y="974.1" font-size="32.3" transform="rotate(90 1321.1 974.1)" textLength="171.4" lengthAdjust="spacingAndGlyphs">Up-regulated</text>
<text x="1321.1" y="1156.2" font-size="32.3" transform="rotate(90 1321.1 1156.2)" textLength="23.2" lengthAdjust="spacingAndGlyphs">in</text>
<text x="1321.1" y="1187.1" font-size="32.3" font-style="italic" transform="rotate(90 1321.1 1187.1)" textLength="23.9" lengthAdjust="spacingAndGlyphs">P.</text>
<text x="1321.1" y="1223.3" font-size="32.3" font-style="italic" transform="rotate(90 1321.1 1223.3)" textLength="86.4" lengthAdjust="spacingAndGlyphs">berghei</text>
<text x="1321.1" y="1313.8" font-size="32.3" transform="rotate(90 1321.1 1313.8)" textLength="83.9" lengthAdjust="spacingAndGlyphs">ANKA</text>
<text x="1321.1" y="1406.6" font-size="32.3" transform="rotate(90 1321.1 1406.6)" textLength="16.7" lengthAdjust="spacingAndGlyphs">+</text>
<text x="1321.1" y="1431.7" font-size="32.3" transform="rotate(90 1321.1 1431.7)" textLength="41.8" lengthAdjust="spacingAndGlyphs">KD</text>
<text x="1321.1" y="1483.1" font-size="32.3" transform="rotate(90 1321.1 1483.1)" textLength="73.9" lengthAdjust="spacingAndGlyphs">group</text>
<text x="1945.2" y="938.3" font-size="32.3" transform="rotate(90 1945.2 938.3)" textLength="209.2" lengthAdjust="spacingAndGlyphs">Down-regulated</text>
<text x="1945.2" y="1158.2" font-size="32.3" transform="rotate(90 1945.2 1158.2)" textLength="23.2" lengthAdjust="spacingAndGlyphs">in</text>
<text x="1945.2" y="1189.7" font-size="32.3" font-style="italic" transform="rotate(90 1945.2 1189.7)" textLength="23" lengthAdjust="spacingAndGlyphs">P.</text>
<text x="1945.2" y="1223.6" font-size="32.3" font-style="italic" transform="rotate(90 1945.2 1223.6)" textLength="90.4" lengthAdjust="spacingAndGlyphs">berghei</text>
<text x="1945.2" y="1316.9" font-size="32.3" transform="rotate(90 1945.2 1316.9)" textLength="84.5" lengthAdjust="spacingAndGlyphs">ANKA</text>
<text x="1945.2" y="1409.8" font-size="32.3" transform="rotate(90 1945.2 1409.8)" textLength="16.7" lengthAdjust="spacingAndGlyphs">+</text>
<text x="1945.2" y="1434.1" font-size="32.3" transform="rotate(90 1945.2 1434.1)" textLength="43.5" lengthAdjust="spacingAndGlyphs">KD</text>
<text x="1945.2" y="1486.5" font-size="32.3" transform="rotate(90 1945.2 1486.5)" textLength="74" lengthAdjust="spacingAndGlyphs">group</text>
<text x="878.5" y="1013.2" font-size="32">(</text>
<text x="893" y="1013.2" font-size="33">KDa</text>
<text x="959.5" y="1013.2" font-size="32">)</text>
<text x="1006" y="1041" font-size="30" transform="rotate(-45 1006 1041)">Marker</text>
<text x="1069" y="1039" font-size="30" transform="rotate(-45 1069 1039)">KD</text>
<text x="1132" y="1039" font-size="30" transform="rotate(-45 1132 1039)">RD</text>
<clipPath id="cp1"><rect x="980.2" y="1043.1" width="190" height="89.1"/></clipPath>
<linearGradient id="lg1" x1="0" y1="0" x2="1" y2="0"><stop offset="0" stop-color="#d9d9d9"/><stop offset="0.2" stop-color="#dcdcdc"/><stop offset="0.3" stop-color="#e3e3e3"/><stop offset="1" stop-color="#e1e1e1"/></linearGradient>
<rect x="980.2" y="1043.1" width="190" height="89.1" fill="url(#lg1)"/>
<g clip-path="url(#cp1)">
<rect x="980" y="1051.95" width="44" height="10.5" rx="5.25" fill="#939393" opacity="0.9" filter="url(#g34)"/>
<rect x="980" y="1098.5" width="44" height="14" rx="7" fill="#9e9e9e" opacity="0.85" filter="url(#g44)"/>
<rect x="1030" y="1092.2" width="77" height="12" rx="6" fill="#555" opacity="0.45" filter="url(#g32)"/>
<rect x="1032" y="1094.55" width="73" height="6.5" rx="3.25" fill="#000" opacity="1.0" filter="url(#g14)"/>
<rect x="1108" y="1089.8" width="60" height="18" rx="9" fill="#555" opacity="0.5" filter="url(#g34)"/>
<rect x="1110.5" y="1092.85" width="55.5" height="11.5" rx="5.75" fill="#000" opacity="1.0" filter="url(#g15)"/>
</g>
<text x="965" y="1071.3" font-size="32" text-anchor="end">55</text>
<text x="965" y="1121.7" font-size="32" text-anchor="end">42</text>
<text x="1235.3" y="1080.9" font-size="32" text-anchor="middle">Actin</text>
<text x="1235.3" y="1117.5" font-size="32" text-anchor="middle">(43 KDa)</text>
<clipPath id="cp2"><rect x="972.8" y="1213.4" width="197.4" height="135.4"/></clipPath>
<linearGradient id="lg2" x1="0" y1="0" x2="1" y2="0"><stop offset="0" stop-color="#d6d6d6"/><stop offset="0.2" stop-color="#d0d0d0"/><stop offset="0.3" stop-color="#c3c3c3"/><stop offset="0.62" stop-color="#bebebe"/><stop offset="1" stop-color="#c4c4c4"/></linearGradient>
<rect x="972.8" y="1213.4" width="197.4" height="135.4" fill="url(#lg2)"/>
<g clip-path="url(#cp2)">
<rect x="1026" y="1213" width="70" height="50" rx="6" fill="#9c9c9c" opacity="0.55" filter="url(#g90)"/>
<rect x="971" y="1246.4" width="46" height="16" rx="8" fill="#8a8a8a" opacity="0.95" filter="url(#g46)"/>
<rect x="971" y="1310.1" width="45" height="12" rx="6" fill="#919191" opacity="0.95" filter="url(#g38)"/>
<rect x="1028" y="1268" width="68" height="27" rx="9" fill="#565656" opacity="0.9" filter="url(#g65)"/>
<rect x="1076" y="1262" width="19" height="30" rx="8" fill="#3a3a3a" opacity="0.6" filter="url(#g55)"/>
<rect x="1031" y="1257.3" width="63" height="9" rx="4.5" fill="#2e2e2e" opacity="1.0" filter="url(#g42)"/>
<rect x="1073" y="1255.8" width="21" height="12" rx="6" fill="#000" opacity="1.0" filter="url(#g40)"/>
</g>
<text x="963" y="1264.2" font-size="32" text-anchor="end">30</text>
<text x="963" y="1316" font-size="32" text-anchor="end">23</text>
<text x="1239.5" y="1286.7" font-size="32" text-anchor="middle">DYNLL1</text>
<text x="1237.5" y="1323" font-size="30.5" text-anchor="middle" fill="#2a2a2a">(28 KDa)</text>
<clipPath id="cp3"><rect x="976" y="1405.6" width="196.3" height="99.4"/></clipPath>
<linearGradient id="lg3" x1="0" y1="0" x2="1" y2="0"><stop offset="0" stop-color="#dedede"/><stop offset="0.22" stop-color="#e0e0e0"/><stop offset="0.35" stop-color="#e6e6e6"/><stop offset="1" stop-color="#e2e2e2"/></linearGradient>
<rect x="976" y="1405.6" width="196.3" height="99.4" fill="url(#lg3)"/>
<g clip-path="url(#cp3)">
<rect x="976" y="1425.5" width="45" height="7" rx="3.5" fill="#a8a8a8" opacity="0.9" filter="url(#g32)"/>
<rect x="976" y="1468.1" width="45" height="13" rx="6.5" fill="#a4a4a4" opacity="0.9" filter="url(#g44)"/>
<rect x="1026" y="1426.5" width="87" height="19" rx="9.5" fill="#555" opacity="0.45" filter="url(#g40)"/>
<rect x="1108" y="1430" width="66" height="17" rx="8.5" fill="#666" opacity="0.45" filter="url(#g40)"/>
<rect x="1108" y="1433.8" width="68" height="8" rx="4" fill="#1c1c1c" opacity="1.0" filter="url(#g22)"/>
<rect x="1028" y="1429.95" width="83" height="11.5" rx="5.75" fill="#000" opacity="1.0" filter="url(#g18)"/>
</g>
<text x="965" y="1435.3" font-size="32" text-anchor="end">55</text>
<text x="965" y="1485.8" font-size="32" text-anchor="end">42</text>
<text x="1237" y="1446.7" font-size="32" text-anchor="middle">Tubulin</text>
<text x="1237" y="1483" font-size="32" text-anchor="middle">(55 KDa)</text>
<text x="1487.8" y="1045.6" font-size="32">(</text>
<text x="1502.3" y="1045.6" font-size="33">KDa</text>
<text x="1568.8" y="1045.6" font-size="32">)</text>
<text x="1621.5" y="1047.5" font-size="30" transform="rotate(-45 1621.5 1047.5)">Marker</text>
<text x="1684" y="1047" font-size="30" transform="rotate(-45 1684 1047)">KD</text>
<text x="1747.5" y="1047" font-size="30" transform="rotate(-45 1747.5 1047)">RD</text>
<clipPath id="cp4"><rect x="1583.3" y="1055" width="207.6" height="105.3"/></clipPath>
<linearGradient id="lg4" x1="0" y1="0" x2="1" y2="0"><stop offset="0" stop-color="#d8d8d8"/><stop offset="0.22" stop-color="#dadada"/><stop offset="0.3" stop-color="#e3e3e3"/><stop offset="1" stop-color="#e2e2e2"/></linearGradient>
<rect x="1583.3" y="1055" width="207.6" height="105.3" fill="url(#lg4)"/>
<g clip-path="url(#cp4)">
<rect x="1586" y="1077.8" width="52" height="12" rx="6" fill="#9a9a9a" opacity="0.9" filter="url(#g38)"/>
<rect x="1586" y="1124.9" width="52" height="16" rx="8" fill="#a4a4a4" opacity="0.85" filter="url(#g50)"/>
<rect x="1650" y="1121.5" width="66" height="13" rx="6.5" fill="#666" opacity="0.45" filter="url(#g32)"/>
<rect x="1652" y="1122.7" width="62.4" height="7" rx="3.5" fill="#000" opacity="1.0" filter="url(#g15)"/>
<rect x="1728" y="1123.5" width="60" height="11" rx="5.5" fill="#777" opacity="0.4" filter="url(#g30)"/>
<rect x="1730" y="1124.8" width="56.3" height="5" rx="2.5" fill="#0a0a0a" opacity="1.0" filter="url(#g14)"/>
</g>
<text x="1576.6" y="1096.1" font-size="32" text-anchor="end">55</text>
<text x="1576.6" y="1147.7" font-size="32" text-anchor="end">42</text>
<text x="1858.6" y="1096.1" font-size="32" text-anchor="middle">Actin</text>
<text x="1858.4" y="1132.9" font-size="32" text-anchor="middle">(43 KDa)</text>
<clipPath id="cp5"><rect x="1587.3" y="1198.2" width="210.3" height="129.4"/></clipPath>
<linearGradient id="lg5" x1="0" y1="0" x2="1" y2="0"><stop offset="0" stop-color="#dcdcdc"/><stop offset="0.25" stop-color="#e0e0e0"/><stop offset="0.35" stop-color="#e6e6e6"/><stop offset="1" stop-color="#e4e4e4"/></linearGradient>
<rect x="1587.3" y="1198.2" width="210.3" height="129.4" fill="url(#lg5)"/>
<g clip-path="url(#cp5)">
<line x1="1588" y1="1198.2" x2="1588" y2="1327.6" stroke="#666" stroke-width="1.2" stroke-dasharray="9 5"/>
<rect x="1594" y="1230.75" width="49" height="16.5" rx="8.25" fill="#989898" opacity="0.95" filter="url(#g44)"/>
<rect x="1596" y="1297.8" width="49" height="14" rx="7" fill="#808080" opacity="0.95" filter="url(#g38)"/>
<rect x="1662" y="1230.7" width="54" height="3.2" rx="1.6" fill="#b0b0b0" opacity="0.8" filter="url(#g20)"/>
<rect x="1726" y="1230.7" width="74" height="19" rx="9.5" fill="#555" opacity="0.45" filter="url(#g36)"/>
<rect x="1729" y="1233.8" width="71" height="12" rx="6" fill="#000" opacity="1.0" filter="url(#g17)"/>
</g>
<text x="1578" y="1249.7" font-size="32" text-anchor="end">30</text>
<text x="1578" y="1308.8" font-size="32" text-anchor="end">23</text>
<text x="1863.8" y="1263.2" font-size="32" text-anchor="middle">RPL7a</text>
<text x="1864" y="1299.4" font-size="32" text-anchor="middle">(30 KDa)</text>
<clipPath id="cp6"><rect x="1590" y="1362.1" width="209.3" height="148.4"/></clipPath>
<rect x="1590" y="1362.1" width="209.3" height="148.4" fill="#ededed"/>
<g clip-path="url(#cp6)">
<line x1="1590.6" y1="1362.1" x2="1590.6" y2="1510.5" stroke="#555" stroke-width="1.3"/>
<rect x="1596" y="1378.4" width="52" height="24" rx="12" fill="#a2a2a2" opacity="0.8" filter="url(#g60)"/>
<rect x="1731" y="1461.2" width="70" height="18" rx="9" fill="#888" opacity="0.55" filter="url(#g45)"/>
<rect x="1735" y="1466.1" width="66" height="7" rx="3.5" fill="#2c2c2c" opacity="1.0" filter="url(#g26)"/>
</g>
<text x="1578" y="1396.2" font-size="32" text-anchor="end">18</text>
<text x="1864" y="1452.5" font-size="32" text-anchor="middle">RPL30</text>
<text x="1864" y="1489.5" font-size="32" text-anchor="middle">(13 KDa)</text>
<defs><filter id="g34" x="-1" y="-6" width="3" height="13"><feGaussianBlur stdDeviation="3.4"/></filter><filter id="g44" x="-1" y="-6" width="3" height="13"><feGaussianBlur stdDeviation="4.4"/></filter><filter id="g32" x="-1" y="-6" width="3" height="13"><feGaussianBlur stdDeviation="3.2"/></filter><filter id="g14" x="-1" y="-6" width="3" height="13"><feGaussianBlur stdDeviation="1.4"/></filter><filter id="g15" x="-1" y="-6" width="3" height="13"><feGaussianBlur stdDeviation="1.5"/></filter><filter id="g90" x="-1" y="-6" width="3" height="13"><feGaussianBlur stdDeviation="9"/></filter><filter id="g46" x="-1" y="-6" width="3" height="13"><feGaussianBlur stdDeviation="4.6"/></filter><filter id="g38" x="-1" y="-6" width="3" height="13"><feGaussianBlur stdDeviation="3.8"/></filter><filter id="g65" x="-1" y="-6" width="3" height="13"><feGaussianBlur stdDeviation="6.5"/></filter><filter id="g55" x="-1" y="-6" width="3" height="13"><feGaussianBlur stdDeviation="5.5"/></filter><filter id="g42" x="-1" y="-6" width="3" height="13"><feGaussianBlur stdDeviation="4.2"/></filter><filter id="g40" x="-1" y="-6" width="3" height="13"><feGaussianBlur stdDeviation="4"/></filter><filter id="g22" x="-1" y="-6" width="3" height="13"><feGaussianBlur stdDeviation="2.2"/></filter><filter id="g18" x="-1" y="-6" width="3" height="13"><feGaussianBlur stdDeviation="1.8"/></filter><filter id="g50" x="-1" y="-6" width="3" height="13"><feGaussianBlur stdDeviation="5"/></filter><filter id="g30" x="-1" y="-6" width="3" height="13"><feGaussianBlur stdDeviation="3"/></filter><filter id="g20" x="-1" y="-6" width="3" height="13"><feGaussianBlur stdDeviation="2"/></filter><filter id="g36" x="-1" y="-6" width="3" height="13"><feGaussianBlur stdDeviation="3.6"/></filter><filter id="g17" x="-1" y="-6" width="3" height="13"><feGaussianBlur stdDeviation="1.7"/></filter><filter id="g60" x="-1" y="-6" width="3" height="13"><feGaussianBlur stdDeviation="6"/></filter><filter id="g45" x="-1" y="-6" width="3" height="13"><feGaussianBlur stdDeviation="4.5"/></filter><filter id="g26" x="-1" y="-6" width="3" height="13"><feGaussianBlur stdDeviation="2.6"/></filter></defs>
<text x="-0.2" y="1770.8" font-size="50" font-weight="bold" transform="translate(-0.2 1770.8) scale(1 1.04) translate(0.2 -1770.8)">d</text>
<line x1="159.2" y1="1814.95" x2="159.2" y2="2102.5" stroke="#000" stroke-width="1.7"/>
<line x1="158.35" y1="2102.5" x2="1090.2" y2="2102.5" stroke="#000" stroke-width="1.7"/>
<line x1="148.7" y1="1815.8" x2="159.2" y2="1815.8" stroke="#000" stroke-width="1.7"/>
<text x="151.6" y="1825.4" font-size="29.5" text-anchor="end" transform="translate(151.6 1825.4) scale(1 1.1) translate(-151.6 -1825.4)">2.0</text>
<line x1="148.7" y1="1887.5" x2="159.2" y2="1887.5" stroke="#000" stroke-width="1.7"/>
<text x="151.6" y="1897.1" font-size="29.5" text-anchor="end" transform="translate(151.6 1897.1) scale(1 1.1) translate(-151.6 -1897.1)">1.5</text>
<line x1="148.7" y1="1959.2" x2="159.2" y2="1959.2" stroke="#000" stroke-width="1.7"/>
<text x="151.6" y="1968.8" font-size="29.5" text-anchor="end" transform="translate(151.6 1968.8) scale(1 1.1) translate(-151.6 -1968.8)">1.0</text>
<line x1="148.7" y1="2030.8" x2="159.2" y2="2030.8" stroke="#000" stroke-width="1.7"/>
<text x="151.6" y="2040.4" font-size="29.5" text-anchor="end" transform="translate(151.6 2040.4) scale(1 1.1) translate(-151.6 -2040.4)">0.5</text>
<line x1="148.7" y1="2102.5" x2="159.2" y2="2102.5" stroke="#000" stroke-width="1.7"/>
<text x="151.6" y="2112.1" font-size="29.5" text-anchor="end" transform="translate(151.6 2112.1) scale(1 1.1) translate(-151.6 -2112.1)">0.0</text>
<line x1="251.4" y1="2102.5" x2="251.4" y2="2115.5" stroke="#000" stroke-width="1.7"/>
<line x1="437.6" y1="2102.5" x2="437.6" y2="2115.5" stroke="#000" stroke-width="1.7"/>
<line x1="623.7" y1="2102.5" x2="623.7" y2="2115.5" stroke="#000" stroke-width="1.7"/>
<line x1="809.7" y1="2102.5" x2="809.7" y2="2115.5" stroke="#000" stroke-width="1.7"/>
<line x1="995.7" y1="2102.5" x2="995.7" y2="2115.5" stroke="#000" stroke-width="1.7"/>
<text x="99.5" y="1936.6" font-size="29.5" text-anchor="middle" transform="rotate(-90 99.5 1936.6) translate(99.5 1936.6) scale(1 1.05) translate(-99.5 -1936.6)">Relative expression</text>
<text x="348.2" y="1788.6" font-size="29.5" transform="translate(348.2 1788.6) scale(1 1.05) translate(-348.2 -1788.6)">KOG</text>
<text x="431.2" y="1788.6" font-size="29.5" transform="translate(431.2 1788.6) scale(1 1.05) translate(-431.2 -1788.6)">Translation, ribosome structure and biogenesis</text>
<line x1="396.5" y1="1798.5" x2="868.5" y2="1798.5" stroke="#000" stroke-width="1.7"/>
<path d="M199.41 1949.49 L243.54 1949.49 C242.73 1950.47 237.39 1953.03 238.64 1955.37 C239.89 1957.71 249.16 1961.36 251.06 1963.54 C252.97 1965.72 250.25 1967.63 250.08 1968.45 L192.87 1968.45 C192.49 1967.63 188.68 1965.72 190.59 1963.54 C192.49 1961.36 202.84 1957.71 204.32 1955.37 C205.79 1953.03 200.23 1950.47 199.41 1949.49 Z" fill="#f96ae2" stroke="#000" stroke-width="1.9" stroke-linejoin="round"/>
<circle cx="220.99" cy="1949.49" r="3.8" fill="#000"/>
<circle cx="217.06" cy="1960.93" r="3.8" fill="#000"/>
<circle cx="224.26" cy="1968.45" r="3.8" fill="#000"/>
<line x1="254.99" y1="2079.76" x2="312.19" y2="2079.76" stroke="#000" stroke-width="1.8"/>
<circle cx="275.58" cy="2079.59" r="2.8" fill="none" stroke="#000" stroke-width="1.7"/>
<circle cx="282.77" cy="2079.59" r="2.8" fill="none" stroke="#000" stroke-width="1.7"/>
<circle cx="290.29" cy="2082.21" r="2.8" fill="none" stroke="#000" stroke-width="1.7"/>
<path d="M391.96 1862.53 L422.03 1862.53 C421.43 1867.11 420.02 1878.88 418.44 1889.99 C416.86 1901.1 410.92 1916.14 412.55 1929.22 C414.19 1942.29 424.16 1957.93 428.24 1968.45 C432.33 1978.96 435.6 1988.33 437.07 1992.31 L376.59 1992.31 C378.12 1988.33 381.61 1978.96 385.75 1968.45 C389.89 1957.93 399.8 1942.29 401.44 1929.22 C403.07 1916.14 397.13 1901.1 395.55 1889.99 C393.97 1878.88 392.56 1867.11 391.96 1862.53 Z" fill="#f96ae2" stroke="#000" stroke-width="1.9" stroke-linejoin="round"/>
<circle cx="406.67" cy="1862.53" r="3.8" fill="#000"/>
<circle cx="402.75" cy="1992.31" r="3.8" fill="#000"/>
<circle cx="410.59" cy="1992.31" r="3.8" fill="#000"/>
<path d="M438.71 1952.43 L498.86 1952.43 C498.69 1954.01 500.76 1957.06 497.88 1961.91 C494.99 1966.76 485.51 1974.99 481.53 1981.52 C477.55 1988.06 474.28 1995.14 474.01 2001.14 C473.74 2007.13 478.1 2012.52 479.9 2017.48 C481.69 2022.44 483.98 2028.65 484.8 2030.89 L452.76 2030.89 C453.58 2028.65 455.76 2022.44 457.67 2017.48 C459.57 2012.52 464.48 2007.13 464.2 2001.14 C463.93 1995.14 460.12 1988.06 456.03 1981.52 C451.95 1974.99 442.57 1966.76 439.69 1961.91 C436.8 1957.06 438.87 1954.01 438.71 1952.43 Z" fill="#709eff" stroke="#000" stroke-width="1.9" stroke-linejoin="round"/>
<circle cx="468.78" cy="1952.43" r="2.8" fill="none" stroke="#000" stroke-width="1.7"/>
<circle cx="468.78" cy="1963.87" r="2.8" fill="none" stroke="#000" stroke-width="1.7"/>
<circle cx="468.78" cy="2030.89" r="2.8" fill="none" stroke="#000" stroke-width="1.7"/>
<path d="M577.59 1934.12 L608.65 1934.12 C606.91 1936.03 598.46 1941.48 598.19 1945.56 C597.92 1949.65 602.77 1954.39 607.02 1958.64 C611.27 1962.89 620.91 1968.99 623.69 1971.06 L562.23 1971.06 C565.06 1968.99 574.87 1962.89 579.23 1958.64 C583.59 1954.39 588.65 1949.65 588.38 1945.56 C588.11 1941.48 579.39 1936.03 577.59 1934.12 Z" fill="#f96ae2" stroke="#000" stroke-width="1.9" stroke-linejoin="round"/>
<circle cx="592.96" cy="1934.12" r="3.8" fill="#000"/>
<circle cx="589.04" cy="1971.06" r="3.8" fill="#000"/>
<circle cx="596.88" cy="1971.06" r="3.8" fill="#000"/>
<path d="M639.71 1986.75 L670.76 1986.75 C669.02 1987.79 660.03 1990.84 660.3 1992.97 C660.57 1995.09 668.15 1997.43 672.4 1999.5 C676.65 2001.57 683.57 2004.41 685.8 2005.39 L624.34 2005.39 C626.63 2004.41 633.88 2001.57 638.07 1999.5 C642.27 1997.43 649.24 1995.09 649.51 1992.97 C649.79 1990.84 641.34 1987.79 639.71 1986.75 Z" fill="#709eff" stroke="#000" stroke-width="1.9" stroke-linejoin="round"/>
<circle cx="654.74" cy="1986.75" r="2.8" fill="none" stroke="#000" stroke-width="1.7"/>
<circle cx="651.15" cy="2004.41" r="2.8" fill="none" stroke="#000" stroke-width="1.7"/>
<circle cx="658.67" cy="2005.39" r="2.8" fill="none" stroke="#000" stroke-width="1.7"/>
<path d="M750.85 1946.54 L807.41 1946.54 C807.63 1947.74 808.72 1951.72 808.72 1953.74 C808.72 1955.75 807.41 1956.73 807.41 1958.64 C807.41 1960.55 808.61 1963.11 808.72 1965.18 C808.82 1967.25 808.17 1970.08 808.06 1971.06 L749.87 1971.06 C749.76 1970.08 749.06 1967.25 749.22 1965.18 C749.38 1963.11 750.85 1960.55 750.85 1958.64 C750.85 1956.73 749.22 1955.75 749.22 1953.74 C749.22 1951.72 750.58 1947.74 750.85 1946.54 Z" fill="#f96ae2" stroke="#000" stroke-width="1.9" stroke-linejoin="round"/>
<circle cx="778.97" cy="1946.54" r="3.8" fill="#000"/>
<circle cx="778.97" cy="1959.62" r="3.8" fill="#000"/>
<circle cx="778.97" cy="1971.06" r="3.8" fill="#000"/>
<path d="M825.06 1949.49 L857.1 1949.49 C855.35 1951.83 845.55 1958.75 846.64 1963.54 C847.73 1968.34 859.49 1974.39 863.64 1978.25 C867.78 1982.12 870.17 1985.34 871.48 1986.75 L810.68 1986.75 C811.88 1985.34 813.67 1982.12 817.87 1978.25 C822.06 1974.39 834.65 1968.34 835.85 1963.54 C837.05 1958.75 826.86 1951.83 825.06 1949.49 Z" fill="#709eff" stroke="#000" stroke-width="1.9" stroke-linejoin="round"/>
<circle cx="840.75" cy="1949.49" r="2.8" fill="none" stroke="#000" stroke-width="1.7"/>
<circle cx="836.83" cy="1980.87" r="2.8" fill="none" stroke="#000" stroke-width="1.7"/>
<circle cx="844.67" cy="1986.75" r="2.8" fill="none" stroke="#000" stroke-width="1.7"/>
<path d="M935.55 1955.37 L994.4 1955.37 C994.12 1956.08 992.76 1958.2 992.76 1959.62 C992.76 1961.04 994.12 1963.16 994.4 1963.87 L935.55 1963.87 C935.83 1963.16 937.19 1961.04 937.19 1959.62 C937.19 1958.2 935.83 1956.08 935.55 1955.37 Z" fill="#f96ae2" stroke="#000" stroke-width="1.9" stroke-linejoin="round"/>
<circle cx="964.65" cy="1954.72" r="3.8" fill="#000"/>
<circle cx="961.71" cy="1959.29" r="3.8" fill="#000"/>
<circle cx="968.24" cy="1963.54" r="3.8" fill="#000"/>
<path d="M1000.93 1925.3 L1052.59 1925.3 C1051.77 1926.49 1046.92 1929.11 1047.68 1932.49 C1048.45 1935.87 1055.69 1941.8 1057.16 1945.56 C1058.63 1949.32 1056.62 1953.46 1056.51 1955.04 L997.67 1955.04 C997.45 1953.46 995 1949.32 996.36 1945.56 C997.72 1941.8 1005.08 1935.87 1005.84 1932.49 C1006.6 1929.11 1001.75 1926.49 1000.93 1925.3 Z" fill="#709eff" stroke="#000" stroke-width="1.9" stroke-linejoin="round"/>
<circle cx="1026.76" cy="1925.3" r="2.8" fill="none" stroke="#000" stroke-width="1.7"/>
<circle cx="1026.76" cy="1942.29" r="2.8" fill="none" stroke="#000" stroke-width="1.7"/>
<circle cx="1026.76" cy="1955.04" r="2.8" fill="none" stroke="#000" stroke-width="1.7"/>
<text x="285.71" y="2059.98" font-size="29.5" text-anchor="middle" transform="translate(285.71 2059.98) scale(1 1.15) translate(-285.71 -2059.98)">&lt; 0.0001</text>
<text x="473.19" y="1935.1" font-size="29.5" text-anchor="middle" transform="translate(473.19 1935.1) scale(1 1.15) translate(-473.19 -1935.1)">0.5398</text>
<text x="662.43" y="1940.66" font-size="29.5" text-anchor="middle" transform="translate(662.43 1940.66) scale(1 1.15) translate(-662.43 -1940.66)">0.0437</text>
<text x="852.19" y="1934.12" font-size="29.5" text-anchor="middle" transform="translate(852.19 1934.12) scale(1 1.15) translate(-852.19 -1934.12)">0.3796</text>
<text x="1031.17" y="1915.16" font-size="29.5" text-anchor="middle" transform="translate(1031.17 1915.16) scale(1 1.15) translate(-1031.17 -1915.16)">0.1090</text>
<text x="268.4" y="2142.1" font-size="29.5" text-anchor="end" transform="rotate(-20 268.4 2142.1) translate(268.4 2142.1) scale(1 1.05) translate(-268.4 -2142.1)">MyoE</text>
<text x="456.6" y="2142.1" font-size="29.5" text-anchor="end" transform="rotate(-20 456.6 2142.1) translate(456.6 2142.1) scale(1 1.05) translate(-456.6 -2142.1)">tRNA-DS, putative</text>
<text x="631.1" y="2142.1" font-size="29.5" text-anchor="end" transform="rotate(-20 631.1 2142.1) translate(631.1 2142.1) scale(1 1.05) translate(-631.1 -2142.1)">tRNA PS, putative</text>
<text x="826.7" y="2142.1" font-size="29.5" text-anchor="end" transform="rotate(-20 826.7 2142.1) translate(826.7 2142.1) scale(1 1.05) translate(-826.7 -2142.1)">RPF2, putative</text>
<text x="1006.7" y="2142.1" font-size="29.5" text-anchor="end" transform="rotate(-20 1006.7 2142.1) translate(1006.7 2142.1) scale(1 1.05) translate(-1006.7 -2142.1)">YTM1</text>
<text x="1113.3" y="1770.8" font-size="50" font-weight="bold" transform="translate(1113.3 1770.8) scale(1 1.04) translate(-1113.3 -1770.8)">e</text>
<line x1="1224.9" y1="1803.15" x2="1224.9" y2="2090" stroke="#000" stroke-width="1.7"/>
<line x1="1224.05" y1="2090" x2="2154.7" y2="2090" stroke="#000" stroke-width="1.7"/>
<line x1="1212.2" y1="1804" x2="1224.9" y2="1804" stroke="#000" stroke-width="1.7"/>
<text x="1213.1" y="1812" font-size="29.5" text-anchor="end" transform="translate(1213.1 1812) scale(1 1.1) translate(-1213.1 -1812)">6</text>
<line x1="1212.2" y1="1899.4" x2="1224.9" y2="1899.4" stroke="#000" stroke-width="1.7"/>
<text x="1213.1" y="1907.4" font-size="29.5" text-anchor="end" transform="translate(1213.1 1907.4) scale(1 1.1) translate(-1213.1 -1907.4)">4</text>
<line x1="1212.2" y1="1994.8" x2="1224.9" y2="1994.8" stroke="#000" stroke-width="1.7"/>
<text x="1213.1" y="2002.8" font-size="29.5" text-anchor="end" transform="translate(1213.1 2002.8) scale(1 1.1) translate(-1213.1 -2002.8)">2</text>
<line x1="1212.2" y1="2090" x2="1224.9" y2="2090" stroke="#000" stroke-width="1.7"/>
<text x="1213.1" y="2098" font-size="29.5" text-anchor="end" transform="translate(1213.1 2098) scale(1 1.1) translate(-1213.1 -2098)">0</text>
<line x1="1317.4" y1="2090" x2="1317.4" y2="2103" stroke="#000" stroke-width="1.7"/>
<line x1="1503.4" y1="2090" x2="1503.4" y2="2103" stroke="#000" stroke-width="1.7"/>
<line x1="1689.5" y1="2090" x2="1689.5" y2="2103" stroke="#000" stroke-width="1.7"/>
<line x1="1875.5" y1="2090" x2="1875.5" y2="2103" stroke="#000" stroke-width="1.7"/>
<line x1="2061.3" y1="2090" x2="2061.3" y2="2103" stroke="#000" stroke-width="1.7"/>
<text x="1183.1" y="1924" font-size="29.5" text-anchor="middle" transform="rotate(-90 1183.1 1924) translate(1183.1 1924) scale(1 1.05) translate(-1183.1 -1924)">Relative expression</text>
<text x="1568.1" y="1778.2" font-size="29.5" transform="translate(1568.1 1778.2) scale(1 1.05) translate(-1568.1 -1778.2)">KOG</text>
<text x="1651.1" y="1778.2" font-size="29.5" transform="translate(1651.1 1778.2) scale(1 1.05) translate(-1651.1 -1778.2)">Cytoskeleton</text>
<line x1="1252.7" y1="1789.6" x2="2155.7" y2="1789.6" stroke="#000" stroke-width="1.7"/>
<path d="M1256.26 2039.71 L1317.39 2039.71 C1316.57 2040.04 1314.67 2040.48 1312.49 2041.67 C1310.31 2042.87 1305.68 2046.03 1304.32 2046.9 L1271.62 2046.9 C1270.26 2046.03 1266.01 2042.87 1263.45 2041.67 C1260.89 2040.48 1257.46 2040.04 1256.26 2039.71 Z" fill="#f96ae2" stroke="#000" stroke-width="1.9" stroke-linejoin="round"/>
<circle cx="1279.14" cy="2040.37" r="3.8" fill="#000"/>
<circle cx="1286.34" cy="2040.37" r="3.8" fill="#000"/>
<circle cx="1294.18" cy="2046.9" r="3.8" fill="#000"/>
<path d="M1329.49 1824.61 L1367.73 1824.61 C1366.97 1827.88 1364.57 1837.69 1363.16 1844.22 C1361.74 1850.76 1358.31 1856.21 1359.24 1863.84 C1360.16 1871.47 1365.45 1880.73 1368.72 1889.99 C1371.98 1899.25 1377.6 1911.46 1378.85 1919.41 C1380.1 1927.37 1376.67 1934.67 1376.23 1937.72 L1322.29 1937.72 C1321.64 1934.67 1317.28 1927.37 1318.37 1919.41 C1319.46 1911.46 1325.56 1899.25 1328.83 1889.99 C1332.1 1880.73 1337.17 1871.47 1337.99 1863.84 C1338.8 1856.21 1335.15 1850.76 1333.74 1844.22 C1332.32 1837.69 1330.2 1827.88 1329.49 1824.61 Z" fill="#709eff" stroke="#000" stroke-width="1.9" stroke-linejoin="round"/>
<circle cx="1348.45" cy="1824.61" r="2.8" fill="none" stroke="#000" stroke-width="1.7"/>
<circle cx="1348.45" cy="1904.37" r="2.8" fill="none" stroke="#000" stroke-width="1.7"/>
<circle cx="1348.45" cy="1937.72" r="2.8" fill="none" stroke="#000" stroke-width="1.7"/>
<path d="M1441.94 2038.73 L1503.4 2038.73 C1501.55 2039.28 1494.68 2040.53 1492.29 2042 C1489.89 2043.47 1489.56 2046.63 1489.02 2047.56 L1456.33 2047.56 C1455.78 2046.63 1455.45 2043.47 1453.06 2042 C1450.66 2040.53 1443.79 2039.28 1441.94 2038.73 Z" fill="#f96ae2" stroke="#000" stroke-width="1.9" stroke-linejoin="round"/>
<circle cx="1468.75" cy="2040.37" r="3.8" fill="#000"/>
<circle cx="1472.67" cy="2038.73" r="3.8" fill="#000"/>
<circle cx="1476.59" cy="2047.56" r="3.8" fill="#000"/>
<path d="M1507 1949.49 L1562.57 1949.49 C1562.84 1950.2 1564.2 1952.21 1564.2 1953.74 C1564.2 1955.26 1562.46 1957.01 1562.57 1958.64 C1562.68 1960.27 1564.69 1962.07 1564.86 1963.54 C1565.02 1965.01 1563.77 1966.81 1563.55 1967.47 L1506.02 1967.47 C1505.8 1966.81 1504.54 1965.01 1504.71 1963.54 C1504.87 1962.07 1506.89 1960.27 1507 1958.64 C1507.1 1957.01 1505.36 1955.26 1505.36 1953.74 C1505.36 1952.21 1506.72 1950.2 1507 1949.49 Z" fill="#709eff" stroke="#000" stroke-width="1.9" stroke-linejoin="round"/>
<circle cx="1534.46" cy="1949.49" r="2.8" fill="none" stroke="#000" stroke-width="1.7"/>
<circle cx="1534.46" cy="1958.64" r="2.8" fill="none" stroke="#000" stroke-width="1.7"/>
<circle cx="1534.46" cy="1967.47" r="2.8" fill="none" stroke="#000" stroke-width="1.7"/>
<line x1="1627.77" y1="2043.14" x2="1689.55" y2="2043.14" stroke="#000" stroke-width="1.8"/>
<circle cx="1651.3" cy="2040.37" r="3.8" fill="#000"/>
<circle cx="1658.5" cy="2042.98" r="3.8" fill="#000"/>
<circle cx="1666.02" cy="2044.29" r="3.8" fill="#000"/>
<path d="M1690.21 1993.95 L1751.01 1993.95 C1750.47 1994.6 1748.45 1996.56 1747.74 1997.87 C1747.03 1999.18 1746.92 2001.14 1746.76 2001.79 L1694.46 2001.79 C1694.35 2001.14 1694.51 1999.18 1693.8 1997.87 C1693.09 1996.56 1690.81 1994.6 1690.21 1993.95 Z" fill="#709eff" stroke="#000" stroke-width="1.9" stroke-linejoin="round"/>
<circle cx="1712.76" cy="1994.6" r="2.8" fill="none" stroke="#000" stroke-width="1.7"/>
<circle cx="1720.61" cy="1997.87" r="2.8" fill="none" stroke="#000" stroke-width="1.7"/>
<circle cx="1728.13" cy="2001.79" r="2.8" fill="none" stroke="#000" stroke-width="1.7"/>
<path d="M1824.56 2035.46 L1865.43 2035.46 C1863.79 2036.28 1853.99 2038.73 1855.62 2040.37 C1857.25 2042 1872.24 2044.07 1875.23 2045.27 C1878.23 2046.47 1873.87 2047.18 1873.6 2047.56 L1816.39 2047.56 C1815.96 2047.18 1810.78 2046.47 1813.78 2045.27 C1816.77 2044.07 1832.57 2042 1834.37 2040.37 C1836.17 2038.73 1826.2 2036.28 1824.56 2035.46 Z" fill="#f96ae2" stroke="#000" stroke-width="1.9" stroke-linejoin="round"/>
<circle cx="1844.51" cy="2035.46" r="3.8" fill="#000"/>
<circle cx="1840.91" cy="2043.64" r="3.8" fill="#000"/>
<circle cx="1848.1" cy="2047.56" r="3.8" fill="#000"/>
<path d="M1879.48 1972.37 L1934.08 1972.37 C1933.7 1973.35 1931.24 1976.07 1931.79 1978.25 C1932.33 1980.43 1936.53 1983.27 1937.35 1985.45 C1938.16 1987.63 1936.8 1989.53 1936.69 1991.33 C1936.58 1993.13 1936.69 1995.42 1936.69 1996.23 L1876.87 1996.23 C1876.87 1995.42 1876.98 1993.13 1876.87 1991.33 C1876.76 1989.53 1875.4 1987.63 1876.21 1985.45 C1877.03 1983.27 1881.23 1980.43 1881.77 1978.25 C1882.32 1976.07 1879.87 1973.35 1879.48 1972.37 Z" fill="#709eff" stroke="#000" stroke-width="1.9" stroke-linejoin="round"/>
<circle cx="1906.62" cy="1972.37" r="2.8" fill="none" stroke="#000" stroke-width="1.7"/>
<circle cx="1906.62" cy="1985.45" r="2.8" fill="none" stroke="#000" stroke-width="1.7"/>
<circle cx="1906.62" cy="1996.23" r="2.8" fill="none" stroke="#000" stroke-width="1.7"/>
<line x1="1999.78" y1="2043.8" x2="2061.24" y2="2043.8" stroke="#000" stroke-width="1.8"/>
<circle cx="2023.32" cy="2039.39" r="3.8" fill="#000"/>
<circle cx="2030.51" cy="2043.64" r="3.8" fill="#000"/>
<circle cx="2037.71" cy="2044.62" r="3.8" fill="#000"/>
<line x1="2061.9" y1="1979.73" x2="2123.03" y2="1979.73" stroke="#000" stroke-width="1.8"/>
<circle cx="2085.11" cy="1977.27" r="2.8" fill="none" stroke="#000" stroke-width="1.7"/>
<circle cx="2092.63" cy="1979.56" r="2.8" fill="none" stroke="#000" stroke-width="1.7"/>
<circle cx="2100.14" cy="1980.54" r="2.8" fill="none" stroke="#000" stroke-width="1.7"/>
<text x="1349.75" y="1817.92" font-size="29.5" text-anchor="middle" transform="translate(1349.75 1817.92) scale(1 1.07) translate(-1349.75 -1817.92)">0.0103</text>
<text x="1535.6" y="1936.26" font-size="29.5" text-anchor="middle" transform="translate(1535.6 1936.26) scale(1 1.07) translate(-1535.6 -1936.26)">0.0001</text>
<text x="1715.38" y="1980.39" font-size="29.5" text-anchor="middle" transform="translate(1715.38 1980.39) scale(1 1.07) translate(-1715.38 -1980.39)">&lt; 0.0001</text>
<text x="1906.45" y="1962.41" font-size="29.5" text-anchor="middle" transform="translate(1906.45 1962.41) scale(1 1.07) translate(-1906.45 -1962.41)">0.0018</text>
<text x="2088.87" y="1963.39" font-size="29.5" text-anchor="middle" transform="translate(2088.87 1963.39) scale(1 1.07) translate(-2088.87 -1963.39)">&lt; 0.0001</text>
<text x="1333.4" y="2129.6" font-size="29.5" text-anchor="end" transform="rotate(-20 1333.4 2129.6) translate(1333.4 2129.6) scale(1 1.05) translate(-1333.4 -2129.6)">DHC, putative</text>
<text x="1512.4" y="2129.6" font-size="29.5" text-anchor="end" transform="rotate(-20 1512.4 2129.6) translate(1512.4 2129.6) scale(1 1.05) translate(-1512.4 -2129.6)">kinesin-X4</text>
<text x="1701" y="2129.6" font-size="29.5" text-anchor="end" transform="rotate(-20 1701 2129.6) translate(1701 2129.6) scale(1 1.05) translate(-1701 -2129.6)">MyoK</text>
<text x="1892.5" y="2129.6" font-size="29.5" text-anchor="end" transform="rotate(-20 1892.5 2129.6) translate(1892.5 2129.6) scale(1 1.05) translate(-1892.5 -2129.6)">TEC, putative</text>
<text x="2078.3" y="2129.6" font-size="29.5" text-anchor="end" transform="rotate(-20 2078.3 2129.6) translate(2078.3 2129.6) scale(1 1.05) translate(-2078.3 -2129.6)">DLC, putative</text>
<text x="1.5" y="2274.6" font-size="50" font-weight="bold" transform="translate(1.5 2274.6) scale(1 1.04) translate(-1.5 -2274.6)">f</text>
<line x1="152.3" y1="2286.05" x2="152.3" y2="2573" stroke="#000" stroke-width="1.7"/>
<line x1="151.45" y1="2573" x2="1081" y2="2573" stroke="#000" stroke-width="1.7"/>
<line x1="139.3" y1="2286.9" x2="152.3" y2="2286.9" stroke="#000" stroke-width="1.7"/>
<text x="140.5" y="2294.9" font-size="29.5" text-anchor="end" transform="translate(140.5 2294.9) scale(1 1.1) translate(-140.5 -2294.9)">8</text>
<line x1="139.3" y1="2358.5" x2="152.3" y2="2358.5" stroke="#000" stroke-width="1.7"/>
<text x="140.5" y="2366.5" font-size="29.5" text-anchor="end" transform="translate(140.5 2366.5) scale(1 1.1) translate(-140.5 -2366.5)">6</text>
<line x1="139.3" y1="2430" x2="152.3" y2="2430" stroke="#000" stroke-width="1.7"/>
<text x="140.5" y="2438" font-size="29.5" text-anchor="end" transform="translate(140.5 2438) scale(1 1.1) translate(-140.5 -2438)">4</text>
<line x1="139.3" y1="2501.6" x2="152.3" y2="2501.6" stroke="#000" stroke-width="1.7"/>
<text x="140.5" y="2509.6" font-size="29.5" text-anchor="end" transform="translate(140.5 2509.6) scale(1 1.1) translate(-140.5 -2509.6)">2</text>
<line x1="139.3" y1="2573" x2="152.3" y2="2573" stroke="#000" stroke-width="1.7"/>
<text x="140.5" y="2581" font-size="29.5" text-anchor="end" transform="translate(140.5 2581) scale(1 1.1) translate(-140.5 -2581)">0</text>
<line x1="244.5" y1="2573" x2="244.5" y2="2586" stroke="#000" stroke-width="1.7"/>
<line x1="430.5" y1="2573" x2="430.5" y2="2586" stroke="#000" stroke-width="1.7"/>
<line x1="616.3" y1="2573" x2="616.3" y2="2586" stroke="#000" stroke-width="1.7"/>
<line x1="802.3" y1="2573" x2="802.3" y2="2586" stroke="#000" stroke-width="1.7"/>
<line x1="988.5" y1="2573" x2="988.5" y2="2586" stroke="#000" stroke-width="1.7"/>
<text x="110.8" y="2407" font-size="29.5" text-anchor="middle" transform="rotate(-90 110.8 2407) translate(110.8 2407) scale(1 1.05) translate(-110.8 -2407)">Relative expression</text>
<text x="515.9" y="2270.6" font-size="29.5" transform="translate(515.9 2270.6) scale(1 1.05) translate(-515.9 -2270.6)">KOG</text>
<text x="598.9" y="2270.6" font-size="29.5" transform="translate(598.9 2270.6) scale(1 1.05) translate(-598.9 -2270.6)">Cell motility</text>
<line x1="371.7" y1="2277.4" x2="844" y2="2277.4" stroke="#000" stroke-width="1.7"/>
<line x1="183.07" y1="2538.78" x2="244.52" y2="2538.78" stroke="#000" stroke-width="1.8"/>
<circle cx="205.95" cy="2535.35" r="3.8" fill="#000"/>
<circle cx="213.8" cy="2538.29" r="3.8" fill="#000"/>
<circle cx="221.31" cy="2539.6" r="3.8" fill="#000"/>
<path d="M245.18 2444.47 L306.31 2444.47 C305.66 2445.28 305.22 2447.57 302.39 2449.37 C299.55 2451.17 290.4 2453.35 289.31 2455.25 C288.22 2457.16 294.76 2459.89 295.85 2460.81 L255.64 2460.81 C256.62 2459.89 262.72 2457.16 261.52 2455.25 C260.32 2453.35 251.17 2451.17 248.45 2449.37 C245.72 2447.57 245.72 2445.28 245.18 2444.47 Z" fill="#709eff" stroke="#000" stroke-width="1.9" stroke-linejoin="round"/>
<circle cx="271.98" cy="2444.47" r="2.8" fill="none" stroke="#000" stroke-width="1.7"/>
<circle cx="279.18" cy="2449.37" r="2.8" fill="none" stroke="#000" stroke-width="1.7"/>
<circle cx="275.58" cy="2460.81" r="2.8" fill="none" stroke="#000" stroke-width="1.7"/>
<path d="M371.04 2534.69 L428.24 2534.69 C428.52 2535.13 429.88 2536.38 429.88 2537.31 C429.88 2538.23 428.52 2539.76 428.24 2540.25 L371.04 2540.25 C370.76 2539.76 369.4 2538.23 369.4 2537.31 C369.4 2536.38 370.76 2535.13 371.04 2534.69 Z" fill="#f96ae2" stroke="#000" stroke-width="1.9" stroke-linejoin="round"/>
<circle cx="392.29" cy="2534.69" r="3.8" fill="#000"/>
<circle cx="399.48" cy="2537.31" r="3.8" fill="#000"/>
<circle cx="406.67" cy="2540.25" r="3.8" fill="#000"/>
<path d="M433.15 2349.34 L490.36 2349.34 C490.63 2350.64 494.44 2354.24 491.99 2357.18 C489.54 2360.13 479.19 2363.99 475.65 2366.99 C472.1 2369.99 469.76 2372.17 470.74 2375.16 C471.72 2378.16 479.73 2383.34 481.53 2384.97 L442.3 2384.97 C444.04 2383.34 451.84 2378.16 452.76 2375.16 C453.69 2372.17 451.4 2369.99 447.86 2366.99 C444.32 2363.99 433.97 2360.13 431.51 2357.18 C429.06 2354.24 432.88 2350.64 433.15 2349.34 Z" fill="#709eff" stroke="#000" stroke-width="1.9" stroke-linejoin="round"/>
<circle cx="461.26" cy="2349.34" r="2.8" fill="none" stroke="#000" stroke-width="1.7"/>
<circle cx="461.26" cy="2360.45" r="2.8" fill="none" stroke="#000" stroke-width="1.7"/>
<circle cx="461.26" cy="2384.97" r="2.8" fill="none" stroke="#000" stroke-width="1.7"/>
<line x1="555.69" y1="2537.14" x2="616.17" y2="2537.14" stroke="#000" stroke-width="1.8"/>
<circle cx="578.57" cy="2536" r="3.8" fill="#000"/>
<circle cx="585.77" cy="2536" r="3.8" fill="#000"/>
<circle cx="593.29" cy="2539.6" r="3.8" fill="#000"/>
<path d="M632.51 2408.51 L662.92 2408.51 C661.23 2412.48 651.47 2425.12 652.78 2432.37 C654.09 2439.62 666.51 2446.7 670.76 2451.99 C675.01 2457.27 677.03 2462.06 678.28 2464.08 L617.15 2464.08 C618.46 2462.06 620.69 2457.27 625 2451.99 C629.3 2446.7 641.72 2439.62 642.97 2432.37 C644.23 2425.12 634.26 2412.48 632.51 2408.51 Z" fill="#709eff" stroke="#000" stroke-width="1.9" stroke-linejoin="round"/>
<circle cx="647.55" cy="2408.51" r="2.8" fill="none" stroke="#000" stroke-width="1.7"/>
<circle cx="643.96" cy="2461.14" r="2.8" fill="none" stroke="#000" stroke-width="1.7"/>
<circle cx="651.47" cy="2464.08" r="2.8" fill="none" stroke="#000" stroke-width="1.7"/>
<path d="M741.05 2532.08 L802.18 2532.08 C799.89 2532.89 790.19 2535.73 788.45 2536.98 C786.7 2538.23 790.9 2538.51 791.72 2539.6 C792.53 2540.69 793.08 2542.86 793.35 2543.52 L750.2 2543.52 C750.58 2542.86 751.56 2540.69 752.49 2539.6 C753.41 2538.51 757.66 2538.23 755.76 2536.98 C753.85 2535.73 743.5 2532.89 741.05 2532.08 Z" fill="#f96ae2" stroke="#000" stroke-width="1.9" stroke-linejoin="round"/>
<circle cx="771.45" cy="2531.42" r="3.8" fill="#000"/>
<circle cx="767.85" cy="2536.33" r="3.8" fill="#000"/>
<circle cx="775.37" cy="2543.52" r="3.8" fill="#000"/>
<path d="M815.58 2476.5 L852.19 2476.5 C850.56 2477.87 841.3 2482.22 842.39 2484.68 C843.48 2487.13 855.14 2489.03 858.73 2491.21 C862.33 2493.39 863.09 2496.66 863.96 2497.75 L803.16 2497.75 C803.98 2496.66 804.52 2493.39 808.06 2491.21 C811.6 2489.03 823.15 2487.13 824.41 2484.68 C825.66 2482.22 817.05 2477.87 815.58 2476.5 Z" fill="#709eff" stroke="#000" stroke-width="1.9" stroke-linejoin="round"/>
<circle cx="833.56" cy="2476.5" r="2.8" fill="none" stroke="#000" stroke-width="1.7"/>
<circle cx="829.64" cy="2491.87" r="2.8" fill="none" stroke="#000" stroke-width="1.7"/>
<circle cx="837.16" cy="2497.75" r="2.8" fill="none" stroke="#000" stroke-width="1.7"/>
<path d="M927.38 2534.69 L987.86 2534.69 C984.86 2535.18 972.33 2536.6 969.88 2537.63 C967.43 2538.67 972.6 2540.36 973.15 2540.9 L942.09 2540.9 C942.64 2540.36 947.81 2538.67 945.36 2537.63 C942.91 2536.6 930.38 2535.18 927.38 2534.69 Z" fill="#f96ae2" stroke="#000" stroke-width="1.9" stroke-linejoin="round"/>
<circle cx="950.92" cy="2535.35" r="3.8" fill="#000"/>
<circle cx="957.78" cy="2536" r="3.8" fill="#000"/>
<circle cx="964.98" cy="2540.9" r="3.8" fill="#000"/>
<line x1="990.15" y1="2480.59" x2="1049.32" y2="2480.59" stroke="#000" stroke-width="1.8"/>
<circle cx="1011.72" cy="2480.43" r="2.8" fill="none" stroke="#000" stroke-width="1.7"/>
<circle cx="1019.24" cy="2480.43" r="2.8" fill="none" stroke="#000" stroke-width="1.7"/>
<circle cx="1027.09" cy="2480.43" r="2.8" fill="none" stroke="#000" stroke-width="1.7"/>
<text x="275.91" y="2427.77" font-size="29.5" text-anchor="middle" transform="translate(275.91 2427.77) scale(1 1.11) translate(-275.91 -2427.77)">&lt; 0.0001</text>
<text x="451.45" y="2341.14" font-size="29.5" text-anchor="middle" transform="translate(451.45 2341.14) scale(1 1.11) translate(-451.45 -2341.14)">&lt; 0.0001</text>
<text x="651.31" y="2393.44" font-size="29.5" text-anchor="middle" transform="translate(651.31 2393.44) scale(1 1.11) translate(-651.31 -2393.44)">0.0069</text>
<text x="835.03" y="2461.44" font-size="29.5" text-anchor="middle" transform="translate(835.03 2461.44) scale(1 1.11) translate(-835.03 -2461.44)">0.0026</text>
<text x="1014.34" y="2467" font-size="29.5" text-anchor="middle" transform="translate(1014.34 2467) scale(1 1.11) translate(-1014.34 -2467)">&lt; 0.0001</text>
<text x="248.5" y="2612.6" font-size="29.5" text-anchor="end" transform="rotate(-20 248.5 2612.6) translate(248.5 2612.6) scale(1 1.05) translate(-248.5 -2612.6)">ADF2</text>
<text x="444.5" y="2612.6" font-size="29.5" text-anchor="end" transform="rotate(-20 444.5 2612.6) translate(444.5 2612.6) scale(1 1.05) translate(-444.5 -2612.6)">DLC Tctex-type, putative</text>
<text x="631.3" y="2612.6" font-size="29.5" text-anchor="end" transform="rotate(-20 631.3 2612.6) translate(631.3 2612.6) scale(1 1.05) translate(-631.3 -2612.6)">DLC, putative</text>
<text x="830.3" y="2612.6" font-size="29.5" text-anchor="end" transform="rotate(-20 830.3 2612.6) translate(830.3 2612.6) scale(1 1.05) translate(-830.3 -2612.6)">DLC Tctex-type, putative</text>
<text x="998.5" y="2612.6" font-size="29.5" text-anchor="end" transform="rotate(-20 998.5 2612.6) translate(998.5 2612.6) scale(1 1.05) translate(-998.5 -2612.6)">MCA1</text>
<text x="1113.3" y="2276.1" font-size="50" font-weight="bold" transform="translate(1113.3 2276.1) scale(1 1.04) translate(-1113.3 -2276.1)">g</text>
<line x1="1227.2" y1="2281.15" x2="1227.2" y2="2567.7" stroke="#000" stroke-width="1.7"/>
<line x1="1226.35" y1="2567.7" x2="2156.4" y2="2567.7" stroke="#000" stroke-width="1.7"/>
<line x1="1214.2" y1="2282" x2="1227.2" y2="2282" stroke="#000" stroke-width="1.7"/>
<text x="1215.4" y="2290" font-size="29.5" text-anchor="end" transform="translate(1215.4 2290) scale(1 1.1) translate(-1215.4 -2290)">5</text>
<line x1="1214.2" y1="2339.2" x2="1227.2" y2="2339.2" stroke="#000" stroke-width="1.7"/>
<text x="1215.4" y="2347.2" font-size="29.5" text-anchor="end" transform="translate(1215.4 2347.2) scale(1 1.1) translate(-1215.4 -2347.2)">4</text>
<line x1="1214.2" y1="2396.3" x2="1227.2" y2="2396.3" stroke="#000" stroke-width="1.7"/>
<text x="1215.4" y="2404.3" font-size="29.5" text-anchor="end" transform="translate(1215.4 2404.3) scale(1 1.1) translate(-1215.4 -2404.3)">3</text>
<line x1="1214.2" y1="2453.4" x2="1227.2" y2="2453.4" stroke="#000" stroke-width="1.7"/>
<text x="1215.4" y="2461.4" font-size="29.5" text-anchor="end" transform="translate(1215.4 2461.4) scale(1 1.1) translate(-1215.4 -2461.4)">2</text>
<line x1="1214.2" y1="2510.6" x2="1227.2" y2="2510.6" stroke="#000" stroke-width="1.7"/>
<text x="1215.4" y="2518.6" font-size="29.5" text-anchor="end" transform="translate(1215.4 2518.6) scale(1 1.1) translate(-1215.4 -2518.6)">1</text>
<line x1="1214.2" y1="2567.7" x2="1227.2" y2="2567.7" stroke="#000" stroke-width="1.7"/>
<text x="1215.4" y="2575.7" font-size="29.5" text-anchor="end" transform="translate(1215.4 2575.7) scale(1 1.1) translate(-1215.4 -2575.7)">0</text>
<line x1="1319.7" y1="2567.7" x2="1319.7" y2="2580.7" stroke="#000" stroke-width="1.7"/>
<line x1="1505.7" y1="2567.7" x2="1505.7" y2="2580.7" stroke="#000" stroke-width="1.7"/>
<line x1="1691.8" y1="2567.7" x2="1691.8" y2="2580.7" stroke="#000" stroke-width="1.7"/>
<line x1="1877.6" y1="2567.7" x2="1877.6" y2="2580.7" stroke="#000" stroke-width="1.7"/>
<line x1="2063.9" y1="2567.7" x2="2063.9" y2="2580.7" stroke="#000" stroke-width="1.7"/>
<text x="1185.3" y="2402" font-size="29.5" text-anchor="middle" transform="rotate(-90 1185.3 2402) translate(1185.3 2402) scale(1 1.05) translate(-1185.3 -2402)">Relative expression</text>
<text x="1394.2" y="2246" font-size="29.5" transform="translate(1394.2 2246) scale(1 1.05) translate(-1394.2 -2246)">KOG</text>
<text x="1477.2" y="2246" font-size="29.5" transform="translate(1477.2 2246) scale(1 1.05) translate(-1477.2 -2246)">Cell cycle control, cell division chromosome partitioning</text>
<line x1="1479.2" y1="2257.8" x2="2104.7" y2="2257.8" stroke="#000" stroke-width="1.7"/>
<path d="M1268.36 2502.66 L1309.22 2502.66 C1307.86 2503.47 1299.36 2505.92 1301.05 2507.56 C1302.74 2509.19 1316.47 2510.99 1319.35 2512.46 C1322.24 2513.93 1318.54 2515.73 1318.37 2516.39 L1260.84 2516.39 C1260.56 2515.73 1256.59 2513.93 1259.2 2512.46 C1261.82 2510.99 1275 2509.19 1276.53 2507.56 C1278.05 2505.92 1269.72 2503.47 1268.36 2502.66 Z" fill="#f96ae2" stroke="#000" stroke-width="1.9" stroke-linejoin="round"/>
<circle cx="1288.95" cy="2502.66" r="3.8" fill="#000"/>
<circle cx="1285.03" cy="2512.46" r="3.8" fill="#000"/>
<circle cx="1292.87" cy="2516.71" r="3.8" fill="#000"/>
<path d="M1320.66 2490.89 L1381.14 2490.89 C1378.69 2491.76 1370.51 2494.16 1366.43 2496.12 C1362.34 2498.08 1356.62 2500.26 1356.62 2502.66 C1356.62 2505.05 1364.79 2509.19 1366.43 2510.5 L1335.37 2510.5 C1337.01 2509.19 1345.18 2505.05 1345.18 2502.66 C1345.18 2500.26 1339.46 2498.08 1335.37 2496.12 C1331.28 2494.16 1323.11 2491.76 1320.66 2490.89 Z" fill="#709eff" stroke="#000" stroke-width="1.9" stroke-linejoin="round"/>
<circle cx="1347.14" cy="2490.89" r="2.8" fill="none" stroke="#000" stroke-width="1.7"/>
<circle cx="1354.66" cy="2490.89" r="2.8" fill="none" stroke="#000" stroke-width="1.7"/>
<circle cx="1350.74" cy="2510.5" r="2.8" fill="none" stroke="#000" stroke-width="1.7"/>
<path d="M1459.59 2502.66 L1490.65 2502.66 C1489.29 2503.47 1480.84 2505.92 1482.48 2507.56 C1484.11 2509.19 1496.64 2511.26 1500.46 2512.46 C1504.27 2513.66 1504.54 2514.37 1505.36 2514.75 L1444.56 2514.75 C1445.43 2514.37 1445.92 2513.66 1449.79 2512.46 C1453.66 2511.26 1466.13 2509.19 1467.77 2507.56 C1469.4 2505.92 1460.96 2503.47 1459.59 2502.66 Z" fill="#f96ae2" stroke="#000" stroke-width="1.9" stroke-linejoin="round"/>
<circle cx="1474.96" cy="2502.66" r="3.8" fill="#000"/>
<circle cx="1471.04" cy="2514.75" r="3.8" fill="#000"/>
<circle cx="1478.56" cy="2514.75" r="3.8" fill="#000"/>
<path d="M1521.71 2302.26 L1552.76 2302.26 C1550.96 2304.88 1540.88 2313.43 1541.97 2317.95 C1543.06 2322.48 1555.05 2326.29 1559.3 2329.4 C1563.55 2332.5 1566.11 2335.39 1567.47 2336.59 L1507 2336.59 C1508.36 2335.39 1510.97 2332.5 1515.17 2329.4 C1519.36 2326.29 1531.08 2322.48 1532.17 2317.95 C1533.26 2313.43 1523.45 2304.88 1521.71 2302.26 Z" fill="#709eff" stroke="#000" stroke-width="1.9" stroke-linejoin="round"/>
<circle cx="1537.07" cy="2302.26" r="2.8" fill="none" stroke="#000" stroke-width="1.7"/>
<circle cx="1533.15" cy="2336.59" r="2.8" fill="none" stroke="#000" stroke-width="1.7"/>
<circle cx="1540.99" cy="2336.59" r="2.8" fill="none" stroke="#000" stroke-width="1.7"/>
<path d="M1630.71 2504.94 L1691.51 2504.94 C1689.72 2505.92 1681.71 2509.3 1680.73 2510.83 C1679.75 2512.35 1684.98 2512.9 1685.63 2514.1 C1686.28 2515.3 1684.81 2517.37 1684.65 2518.02 L1638.23 2518.02 C1637.96 2517.37 1636.05 2515.3 1636.59 2514.1 C1637.14 2512.9 1642.48 2512.35 1641.5 2510.83 C1640.52 2509.3 1632.51 2505.92 1630.71 2504.94 Z" fill="#f96ae2" stroke="#000" stroke-width="1.9" stroke-linejoin="round"/>
<circle cx="1661.11" cy="2504.29" r="3.8" fill="#000"/>
<circle cx="1657.19" cy="2509.85" r="3.8" fill="#000"/>
<circle cx="1665.03" cy="2518.02" r="3.8" fill="#000"/>
<path d="M1706.88 2396.74 L1739.57 2396.74 C1737.83 2399.41 1727.75 2407.91 1729.11 2412.76 C1730.47 2417.61 1743.71 2422.18 1747.74 2425.83 C1751.77 2429.48 1752.37 2433.19 1753.3 2434.66 L1692.49 2434.66 C1693.53 2433.19 1694.56 2429.48 1698.71 2425.83 C1702.85 2422.18 1715.98 2417.61 1717.34 2412.76 C1718.7 2407.91 1708.62 2399.41 1706.88 2396.74 Z" fill="#709eff" stroke="#000" stroke-width="1.9" stroke-linejoin="round"/>
<circle cx="1722.9" cy="2396.74" r="2.8" fill="none" stroke="#000" stroke-width="1.7"/>
<circle cx="1718.97" cy="2427.79" r="2.8" fill="none" stroke="#000" stroke-width="1.7"/>
<circle cx="1726.82" cy="2434.66" r="2.8" fill="none" stroke="#000" stroke-width="1.7"/>
<path d="M1818.03 2504.94 L1876.21 2504.94 C1876.32 2505.65 1876.87 2507.94 1876.87 2509.19 C1876.87 2510.45 1876.21 2511.37 1876.21 2512.46 C1876.21 2513.55 1876.87 2514.91 1876.87 2515.73 C1876.87 2516.55 1876.32 2517.09 1876.21 2517.37 L1818.03 2517.37 C1817.86 2517.09 1817.05 2516.55 1817.05 2515.73 C1817.05 2514.91 1818.03 2513.55 1818.03 2512.46 C1818.03 2511.37 1817.05 2510.45 1817.05 2509.19 C1817.05 2507.94 1817.86 2505.65 1818.03 2504.94 Z" fill="#f96ae2" stroke="#000" stroke-width="1.9" stroke-linejoin="round"/>
<circle cx="1846.79" cy="2504.29" r="3.8" fill="#000"/>
<circle cx="1843.2" cy="2510.83" r="3.8" fill="#000"/>
<circle cx="1850.39" cy="2517.37" r="3.8" fill="#000"/>
<path d="M1878.5 2417.66 L1939.63 2417.66 C1939.53 2419.02 1941.38 2421.75 1938.98 2425.83 C1936.58 2429.92 1928.68 2437.27 1925.25 2442.18 C1921.82 2447.08 1918.39 2451.44 1918.39 2455.25 C1918.39 2459.07 1923.83 2462.23 1925.25 2465.06 C1926.67 2467.89 1926.61 2471.05 1926.88 2472.25 L1890.93 2472.25 C1891.31 2471.05 1891.74 2467.89 1893.21 2465.06 C1894.68 2462.23 1899.75 2459.07 1899.75 2455.25 C1899.75 2451.44 1896.59 2447.08 1893.21 2442.18 C1889.84 2437.27 1881.94 2429.92 1879.48 2425.83 C1877.03 2421.75 1878.67 2419.02 1878.5 2417.66 Z" fill="#709eff" stroke="#000" stroke-width="1.9" stroke-linejoin="round"/>
<circle cx="1908.91" cy="2417.66" r="2.8" fill="none" stroke="#000" stroke-width="1.7"/>
<circle cx="1908.91" cy="2431.39" r="2.8" fill="none" stroke="#000" stroke-width="1.7"/>
<circle cx="1908.91" cy="2472.25" r="2.8" fill="none" stroke="#000" stroke-width="1.7"/>
<path d="M2004.36 2508.54 L2061.57 2508.54 C2061.84 2508.92 2063.2 2510.01 2063.2 2510.83 C2063.2 2511.65 2061.84 2513.01 2061.57 2513.44 L2004.36 2513.44 C2004.09 2513.01 2002.73 2511.65 2002.73 2510.83 C2002.73 2510.01 2004.09 2508.92 2004.36 2508.54 Z" fill="#f96ae2" stroke="#000" stroke-width="1.9" stroke-linejoin="round"/>
<circle cx="2025.61" cy="2508.54" r="3.8" fill="#000"/>
<circle cx="2032.8" cy="2510.83" r="3.8" fill="#000"/>
<circle cx="2040.32" cy="2513.12" r="3.8" fill="#000"/>
<path d="M2064.84 2470.95 L2125.32 2470.95 C2125.15 2472.14 2127.33 2475.58 2124.34 2478.14 C2121.34 2480.7 2108.15 2483.53 2107.34 2486.31 C2106.52 2489.09 2117.42 2493.39 2119.43 2494.81 L2071.38 2494.81 C2073.28 2493.39 2083.74 2489.09 2082.82 2486.31 C2081.89 2483.53 2068.82 2480.7 2065.82 2478.14 C2062.82 2475.58 2065 2472.14 2064.84 2470.95 Z" fill="#709eff" stroke="#000" stroke-width="1.9" stroke-linejoin="round"/>
<circle cx="2094.91" cy="2470.62" r="2.8" fill="none" stroke="#000" stroke-width="1.7"/>
<circle cx="2094.91" cy="2480.75" r="2.8" fill="none" stroke="#000" stroke-width="1.7"/>
<circle cx="2094.91" cy="2494.81" r="2.8" fill="none" stroke="#000" stroke-width="1.7"/>
<text x="1353.02" y="2483.89" font-size="29.5" text-anchor="middle" transform="translate(1353.02 2483.89) scale(1 1.1) translate(-1353.02 -2483.89)">0.1600</text>
<text x="1526.61" y="2296.57" font-size="29.5" text-anchor="middle" transform="translate(1526.61 2296.57) scale(1 1.1) translate(-1526.61 -2296.57)">&lt; 0.0001</text>
<text x="1723.71" y="2388.1" font-size="29.5" text-anchor="middle" transform="translate(1723.71 2388.1) scale(1 1.1) translate(-1723.71 -2388.1)">0.0018</text>
<text x="1905.47" y="2407.72" font-size="29.5" text-anchor="middle" transform="translate(1905.47 2407.72) scale(1 1.1) translate(-1905.47 -2407.72)">0.0137</text>
<text x="2095.08" y="2461" font-size="29.5" text-anchor="middle" transform="translate(2095.08 2461) scale(1 1.1) translate(-2095.08 -2461)">0.0150</text>
<text x="1329.2" y="2607.3" font-size="29.5" text-anchor="end" transform="rotate(-20 1329.2 2607.3) translate(1329.2 2607.3) scale(1 1.05) translate(-1329.2 -2607.3)">TOP3, putative</text>
<text x="1524.7" y="2607.3" font-size="29.5" text-anchor="end" transform="rotate(-20 1524.7 2607.3) translate(1524.7 2607.3) scale(1 1.05) translate(-1524.7 -2607.3)">FOAD-associated protein</text>
<text x="1453.7" y="2661.3" font-size="29.5" text-anchor="end" transform="rotate(-20 1453.7 2661.3) translate(1453.7 2661.3) scale(1 1.05) translate(-1453.7 -2661.3)">putative</text>
<text x="1712.8" y="2607.3" font-size="29.5" text-anchor="end" transform="rotate(-20 1712.8 2607.3) translate(1712.8 2607.3) scale(1 1.05) translate(-1712.8 -2607.3)">CDC20</text>
<text x="1886.6" y="2607.3" font-size="29.5" text-anchor="end" transform="rotate(-20 1886.6 2607.3) translate(1886.6 2607.3) scale(1 1.05) translate(-1886.6 -2607.3)">ARK1, putative</text>
<text x="2076.9" y="2607.3" font-size="29.5" text-anchor="end" transform="rotate(-20 2076.9 2607.3) translate(2076.9 2607.3) scale(1 1.05) translate(-2076.9 -2607.3)">SMC4</text>
</svg>
</body></html>
